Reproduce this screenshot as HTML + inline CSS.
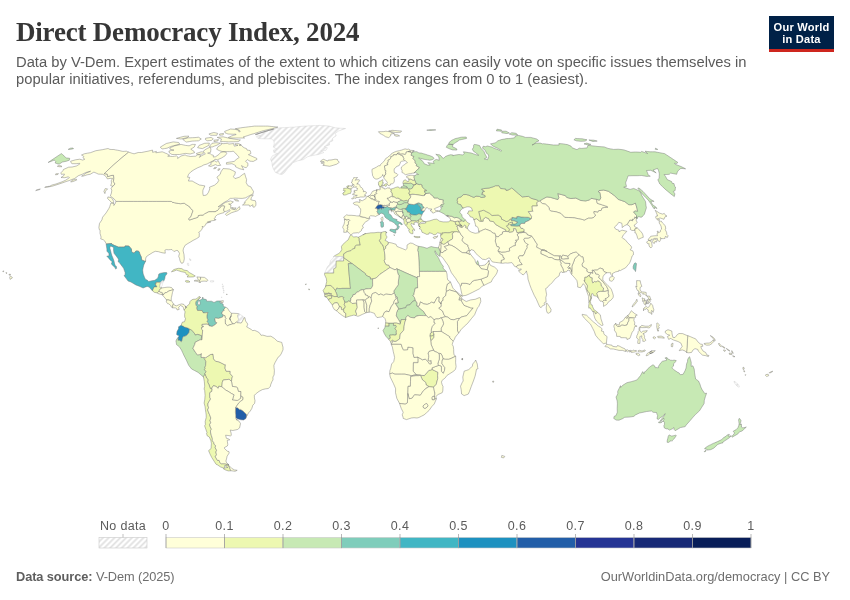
<!DOCTYPE html>
<html lang="en">
<head>
<meta charset="utf-8">
<title>Direct Democracy Index, 2024</title>
<style>
html,body{margin:0;padding:0;background:#fff;}
body{width:850px;height:600px;position:relative;overflow:hidden;font-family:"Liberation Sans",sans-serif;color:#5b5b5b;}
#title{position:absolute;left:16px;top:15.5px;margin:0;font-family:"Liberation Serif",serif;font-weight:bold;font-size:27px;line-height:32px;color:#363636;white-space:nowrap;letter-spacing:-0.2px;}
#subtitle{position:absolute;left:16px;top:53.5px;margin:0;font-size:14.75px;line-height:17.5px;color:#5b5b5b;white-space:nowrap;}
#logo{position:absolute;left:769px;top:16px;width:65px;height:33px;background:#002147;border-bottom:3px solid #ce261e;color:#fff;font-weight:bold;font-size:11.1px;line-height:12.1px;text-align:center;}
#logo span{display:block;position:relative;top:5.2px;letter-spacing:0.2px;}
#map{position:absolute;left:0;top:0;width:850px;height:600px;}
#footer-l{position:absolute;left:16px;top:568.6px;font-size:12.8px;line-height:16px;color:#6e6e6e;white-space:nowrap;letter-spacing:-0.09px;}
#footer-l b{font-weight:bold;color:#5e5e5e;}
#footer-r{position:absolute;right:20px;top:568.6px;font-size:12.8px;line-height:16px;color:#6e6e6e;white-space:nowrap;}
</style>
</head>
<body>
<svg id="map" viewBox="0 0 850 600" width="850" height="600">
<defs>
<pattern id="hatch" patternUnits="userSpaceOnUse" width="4.1" height="4.1" patternTransform="rotate(45)">
<rect width="4.1" height="4.1" fill="#fff"/><line x1="2.05" y1="0" x2="2.05" y2="4.1" stroke="#e0e0e0" stroke-width="1.7"/>
</pattern>
</defs>
<g id="countries"><g stroke="#737373" stroke-width="0.45" stroke-linejoin="round"><path d="M369.6,232.8L367.4,233.2L366.0,233.5L365.5,233.7L366.0,233.6L369.9,233.0L370.7,232.8ZM420.0,237.5L420.0,237.3L418.6,237.6ZM210.1,392.4L209.7,392.7L209.7,393.6ZM211.5,388.7L211.7,388.3L210.2,388.4ZM380.9,233.9L380.9,234.4L381.5,232.4ZM488.6,263.9L488.4,265.2L488.4,264.9L489.4,263.6ZM409.7,194.8L409.5,194.5L409.7,195.1L410.3,196.0L410.5,195.6L409.6,194.9L412.9,194.5L414.1,194.4L412.3,194.1ZM416.1,204.0L416.7,203.5L416.6,203.5L414.4,204.4ZM422.2,211.0L424.0,210.9L424.0,210.9L421.1,210.5ZM363.6,217.2L363.0,217.0L359.4,215.9L360.1,216.6L361.5,217.0ZM412.7,186.7L412.5,187.8L413.2,186.3ZM428.2,352.9L427.9,353.1L428.4,354.6L428.2,353.1ZM431.1,363.0L431.2,360.5L430.4,360.8ZM428.4,387.0L426.7,387.7L425.1,389.2L426.5,388.3ZM434.8,392.7L434.3,391.3L434.4,391.8L434.7,394.0ZM410.1,386.2L408.1,386.2L408.1,386.4L410.1,386.4ZM415.6,362.7L417.9,362.7L417.9,362.4L415.8,362.4L413.5,362.4L413.5,362.7ZM432.2,369.3L430.8,370.0L432.3,369.6ZM442.2,360.1L442.1,361.6L442.2,361.3L442.5,359.7ZM433.4,335.1L434.0,334.9L434.0,335.3L434.2,334.8L433.1,331.5L434.0,334.8ZM442.7,320.7L442.9,321.3L442.4,319.7L442.0,319.1ZM440.0,302.8L440.1,302.5L438.9,300.8L438.9,299.2L438.6,301.4ZM418.3,306.9L418.6,306.1L416.9,306.0ZM396.2,333.0L396.2,333.8L396.2,334.0L396.6,334.0ZM399.6,321.2L398.5,319.6L399.9,322.0ZM396.4,315.1L396.1,315.8L397.3,317.7L396.4,315.8ZM395.7,304.2L397.0,306.2L398.3,308.3L397.4,306.2ZM397.8,301.2L398.1,302.7L395.1,303.2L395.3,303.5L398.5,302.7ZM397.7,300.9L397.5,298.5L397.1,297.0L396.8,296.8L397.4,299.3ZM395.9,297.4L396.3,296.6L395.5,296.2ZM395.2,294.6L394.8,294.1L395.5,296.2ZM388.0,311.4L386.4,310.8L385.2,311.8L386.7,311.6ZM365.2,300.1L367.5,298.3L366.2,298.9ZM362.6,289.7L361.4,289.5L360.2,290.4L360.9,290.2ZM336.9,293.9L336.4,293.0L336.4,293.1L337.0,295.7ZM386.5,245.5L385.7,246.1L385.7,246.9L385.9,246.4ZM382.0,244.5L380.8,242.7L379.4,240.6L379.4,240.6L381.3,244.0ZM592.6,283.0L593.5,282.3L592.3,281.4ZM468.7,253.9L468.3,253.2L466.2,252.9L465.7,252.9L466.1,253.0ZM630.0,317.5L629.0,317.8L629.0,317.9L629.3,317.9L632.8,317.9Z" fill="#ffffd9" stroke="none"/>
<path d="M393.7,234.8L394.0,235.4L394.5,235.4L394.5,234.9ZM501.4,457.4L503.7,457.9L504.8,456.4L501.8,455.4Z" fill="#ffffd9"/>
<path d="M269.3,130.3L266.4,131.2L263.4,132.1L260.4,133.0L257.3,134.0L255.7,134.6L257.1,135.0L259.0,135.4L260.8,135.9L258.6,136.3L256.4,136.6L257.1,137.5L257.9,138.4L259.8,138.6L261.8,138.7L263.7,138.8L266.2,138.8L268.8,138.8L271.3,138.8L272.6,139.8L273.8,140.8L274.3,143.9L273.3,147.1L275.2,148.2L277.1,149.2L275.3,149.7L273.4,150.1L273.9,152.5L275.7,153.0L277.6,153.6L275.0,154.7L272.4,155.8L270.5,159.2L272.0,162.6L272.3,166.0L273.7,169.5L275.4,172.4L277.4,173.2L279.4,174.1L282.0,174.5L284.3,172.9L287.4,168.8L290.6,165.6L293.0,162.6L295.5,161.7L297.9,160.7L300.7,160.2L303.4,159.6L305.6,158.1L307.7,156.7L310.0,156.1L312.2,155.6L315.3,155.0L318.4,154.5L321.1,153.5L323.9,152.5L322.4,151.6L320.9,150.7L323.5,150.5L326.0,150.3L327.3,147.7L325.8,147.1L324.4,146.5L327.0,145.7L329.5,145.0L329.3,142.3L331.0,141.6L332.8,140.8L332.5,138.4L334.4,137.0L336.2,135.7L335.3,133.4L337.0,132.1L338.7,130.9L341.1,130.1L343.3,129.3L345.6,128.5L343.0,128.3L340.4,128.2L337.9,128.0L335.3,127.8L333.2,127.2L331.1,126.6L329.1,126.0L326.8,125.9L324.4,125.7L322.1,125.6L319.9,125.4L317.6,125.5L315.3,125.6L313.0,125.7L310.6,125.8L308.3,125.9L306.0,126.0L303.7,126.2L301.4,126.4L299.0,126.6L296.7,126.8L294.4,127.1L292.0,127.2L289.6,127.3L287.2,127.5L284.8,127.6L282.4,127.7L279.9,127.8L277.7,128.3L275.5,128.7L273.7,129.1L272.2,129.5Z" fill="url(#hatch)" stroke="#cfcfcf"/>
<path d="M50.2,161.7L54.2,160.1L55.0,160.7L55.7,161.4L55.2,163.0L56.6,163.5L58.0,164.0L59.5,164.0L62.2,162.1L66.5,161.2L69.3,160.2L69.7,158.3L68.2,158.1L66.6,158.0L65.7,157.5L64.9,156.9L64.1,156.0L63.3,155.1L62.4,154.4L61.4,153.6L60.9,153.9L54.7,158.0L54.7,158.0L48.5,162.2L48.1,162.5ZM70.8,149.3L73.5,148.7L73.0,148.0L70.4,148.2L68.2,149.4Z" fill="#c7e9b4"/>
<path d="M115.0,184.0L114.2,182.7L113.4,181.5L113.9,178.1L113.5,175.2L110.7,175.6L107.6,176.7L107.3,174.1L104.3,173.6L109.2,169.0L114.2,164.4L119.2,160.0L124.4,155.6L128.6,152.2L128.6,152.1L127.6,151.7L126.5,151.2L124.7,151.3L122.9,151.4L121.0,151.0L119.1,150.5L117.4,150.2L115.6,149.9L113.9,149.5L111.9,149.5L110.0,149.4L109.0,149.0L108.1,148.5L105.2,149.1L102.3,149.7L99.1,150.2L95.9,150.7L90.4,152.7L87.4,153.2L84.3,153.8L81.5,155.0L82.7,155.7L83.9,156.5L82.9,157.8L83.8,158.5L84.8,159.2L82.8,160.1L81.2,159.6L79.7,159.2L75.6,159.8L70.6,161.2L71.1,162.8L72.0,163.7L74.1,163.7L76.2,163.7L79.6,163.3L79.8,164.0L76.4,166.0L72.1,167.0L68.6,167.2L63.4,169.5L62.9,170.7L60.8,172.9L61.3,174.3L64.5,174.1L63.9,175.5L61.0,177.5L62.9,177.6L64.8,177.7L68.5,176.8L69.4,177.7L65.8,180.1L62.1,181.8L59.0,182.9L55.9,184.0L52.0,185.0L48.3,186.9L51.4,186.4L54.2,185.6L57.0,184.7L60.0,183.7L62.9,182.7L66.0,181.6L69.1,180.6L74.8,178.4L78.4,175.7L82.2,174.3L85.6,172.6L87.8,171.9L90.6,171.2L89.1,171.9L86.1,173.0L83.5,175.0L81.6,176.2L83.2,176.1L87.2,174.8L90.2,174.3L93.9,172.1L96.2,173.1L98.3,174.1L100.5,174.2L102.7,174.3L104.9,175.4L106.4,177.4L107.4,178.9L110.1,178.4L112.5,178.4L111.2,180.8L111.5,183.0L110.7,185.7L112.5,186.3L113.5,185.7ZM111.6,243.5L111.3,244.0L114.8,245.6L118.4,247.1L121.6,247.1L124.7,247.1L125.1,245.9L128.8,246.0L131.4,249.0L131.6,251.5L132.5,252.4L134.1,253.2L135.6,251.3L136.7,250.9L138.6,251.2L139.4,252.3L139.8,253.9L141.3,257.1L141.6,259.9L144.9,261.3L145.7,261.1L145.6,258.9L146.2,257.1L147.1,256.0L150.0,254.2L152.9,252.4L155.3,251.3L158.6,251.7L160.6,252.4L163.0,252.9L165.3,253.2L165.1,251.3L164.9,250.2L166.2,249.6L168.6,249.8L170.4,249.6L171.9,249.5L173.9,251.5L176.8,250.4L178.0,250.8L179.5,253.4L178.7,256.3L179.6,258.6L180.1,261.0L181.3,263.2L182.9,263.1L183.7,261.6L184.3,258.9L184.0,254.6L183.1,250.8L183.4,248.7L185.1,245.3L187.9,243.5L190.2,242.2L193.1,240.4L196.6,238.6L199.2,236.9L199.3,233.3L198.7,232.3L199.7,231.9L201.6,229.7L202.5,227.9L202.2,226.1L203.1,227.2L205.4,225.3L206.3,223.2L207.2,223.0L210.9,221.9L207.2,222.2L210.1,221.2L212.8,220.6L214.3,220.5L215.0,219.9L214.7,219.9L214.1,218.6L215.2,217.8L215.4,216.5L217.4,214.7L221.0,213.4L223.9,212.7L224.5,211.8L224.0,210.9L223.7,209.8L224.8,206.3L224.0,205.6L222.6,206.0L222.3,205.4L220.0,207.3L219.1,208.3L218.6,209.3L217.2,210.6L215.8,211.0L215.4,211.6L212.1,211.6L208.8,211.6L204.4,213.9L203.1,215.1L200.6,215.1L198.2,215.6L198.0,216.5L197.8,217.3L195.4,218.1L193.0,218.8L189.4,220.1L188.7,218.7L190.9,216.8L191.9,213.8L193.0,210.9L191.6,209.1L190.1,207.8L189.7,206.8L186.9,205.0L184.2,203.2L180.7,203.7L178.8,203.5L176.9,203.2L174.5,202.7L172.2,202.2L171.4,201.4L167.7,201.4L163.9,201.4L160.1,201.4L156.3,201.4L152.5,201.4L148.8,201.4L145.0,201.4L141.2,201.4L137.4,201.4L133.7,201.4L129.9,201.4L126.1,201.4L122.3,201.4L118.5,201.4L115.9,201.4L115.4,203.2L113.8,205.5L114.0,203.6L111.0,203.0L110.9,203.0L109.7,206.8L108.8,208.6L106.1,212.9L102.6,217.2L101.9,219.9L99.5,223.4L98.9,227.4L99.3,229.7L100.1,230.2L100.0,233.3L101.1,237.1L100.7,238.9L103.2,239.7L104.6,240.8L106.1,243.5L106.2,244.0L108.9,243.7ZM59.3,166.7L62.0,166.7L61.1,165.8L58.4,165.6L57.3,166.3ZM55.8,173.8L55.5,174.8L57.8,174.5L58.5,173.6ZM76.7,180.1L76.3,179.1L72.0,180.3L70.7,182.0L73.1,181.5ZM47.5,187.2L48.5,186.4L45.9,186.7L44.7,187.4ZM35.7,190.6L39.7,189.6L40.4,188.9L36.7,189.9ZM215.8,219.2L215.0,219.9L215.7,220.1ZM2.8,271.6L3.6,271.7L3.8,270.9L2.9,271.0ZM5.9,272.6L6.0,273.2L6.7,273.4L7.0,272.9ZM9.0,274.3L9.0,275.1L10.4,275.1L10.5,274.3ZM12.4,277.9L11.9,277.0L10.5,276.0L9.7,277.3L10.1,279.4Z" fill="#ffffd9"/>
<path d="M154.2,286.9L157.0,286.9L155.2,283.8L156.1,283.8L156.3,282.3L160.5,282.3L160.7,281.9L162.7,280.6L163.8,281.1L164.8,278.5L165.2,276.1L167.0,273.8L166.7,272.6L164.4,272.5L160.6,273.2L158.8,274.0L158.2,276.9L157.6,278.2L154.8,280.3L152.0,280.7L148.7,281.5L147.5,280.3L145.4,279.2L144.7,277.7L143.2,274.0L142.7,270.1L143.2,267.5L143.8,264.9L145.7,261.1L144.9,261.3L141.6,259.9L141.3,257.1L139.8,253.9L139.4,252.3L138.6,251.2L136.7,250.9L135.6,251.3L134.1,253.2L132.5,252.4L131.6,251.5L131.4,249.0L128.8,246.0L125.1,245.9L124.7,247.1L121.6,247.1L118.4,247.1L114.8,245.6L111.3,244.0L111.6,243.5L108.9,243.7L106.2,244.0L106.4,246.1L106.9,249.0L106.9,251.2L108.8,253.2L109.1,255.8L106.8,256.2L108.6,258.0L109.4,259.2L110.8,260.5L112.1,261.8L111.4,264.1L112.5,265.2L115.0,267.5L115.6,269.1L116.7,268.3L116.3,266.2L115.3,265.7L114.7,264.1L114.0,261.0L113.1,258.4L112.0,255.8L111.2,253.2L110.7,251.1L109.8,247.9L110.6,245.9L113.6,247.4L113.5,250.0L114.0,253.3L116.2,256.0L118.5,259.2L118.2,261.8L119.3,262.6L121.1,264.9L123.6,268.3L125.1,272.6L125.1,274.8L124.0,275.6L126.6,279.1L128.1,281.1L130.9,282.0L132.2,282.8L135.8,284.9L139.9,286.5L143.1,288.0L146.2,286.7L147.4,286.5L149.1,287.1L152.5,290.9L153.0,289.4Z" fill="#41b6c4"/>
<path d="M160.5,282.3L156.3,282.3L156.1,283.8L155.2,283.8L157.0,286.9L154.2,286.9L153.0,289.4L152.5,290.9L154.5,292.4L157.2,292.9L158.5,291.8L159.0,291.2L159.7,289.5L162.0,287.9L160.5,287.3L159.8,287.3Z" fill="#edf8b1"/>
<path d="M160.7,281.9L160.5,282.3L159.8,287.3L160.5,287.3L162.0,285.8L162.6,283.2L163.8,281.1L162.7,280.6Z" fill="url(#hatch)" stroke="#cfcfcf"/>
<path d="M162.3,293.9L162.5,292.8L161.9,292.4L160.9,292.3L159.9,291.8L159.0,291.2L158.5,291.8L157.2,292.9L157.8,293.5L160.7,294.4L162.1,294.5L162.2,294.5L162.3,294.1Z" fill="#ffffd9"/>
<path d="M162.4,294.4L163.2,294.1L162.7,294.9L162.7,294.9L163.3,294.9L164.8,292.9L166.6,292.5L169.0,290.9L171.3,290.3L173.4,289.7L171.6,287.6L169.4,287.2L167.1,287.2L164.8,287.5L162.0,287.9L159.7,289.5L159.0,291.2L159.9,291.8L160.9,292.3L161.9,292.4L162.5,292.8L162.3,293.9L162.3,294.1L162.3,294.2Z" fill="#ffffd9"/>
<path d="M162.5,295.2L165.0,298.0L166.5,299.9L166.7,299.9L168.9,300.0L170.5,300.7L171.2,300.3L171.1,300.2L171.4,297.5L172.0,294.9L172.5,292.3L173.4,289.7L171.3,290.3L169.0,290.9L166.6,292.5L164.8,292.9L163.3,294.9L162.7,294.9L162.7,294.9Z" fill="#ffffd9"/>
<path d="M166.6,300.1L166.3,301.9L167.8,303.8L168.7,303.8L170.8,305.6L171.1,306.8L172.6,307.8L172.8,305.1L173.6,303.9L172.7,302.7L171.2,300.3L170.5,300.7L168.9,300.0L166.7,299.9L166.5,299.9L166.5,299.9Z" fill="#ffffd9"/>
<path d="M175.4,307.9L176.7,308.5L177.1,310.0L179.2,309.4L178.6,307.3L180.5,305.5L182.8,306.6L183.4,307.7L184.0,310.0L185.7,308.2L185.4,306.2L184.0,304.5L181.8,303.9L179.4,304.5L176.6,305.8L174.6,305.3L173.6,303.9L172.8,305.1L172.6,307.8Z" fill="#ffffd9"/>
<path d="M189.2,272.5L187.2,270.6L183.9,270.1L181.8,268.6L178.5,268.3L176.2,268.8L173.8,269.6L171.4,271.8L173.8,271.2L176.5,270.1L178.6,270.8L181.4,271.7L185.4,272.5L186.3,274.6L188.5,275.1L187.1,277.0L190.2,277.0L193.3,276.9L195.3,276.0L192.0,274.0Z" fill="#edf8b1"/>
<path d="M185.2,281.1L186.5,282.2L188.4,282.2L190.0,281.9L188.5,280.8L186.3,280.6Z" fill="#edf8b1"/>
<path d="M199.7,280.3L200.5,279.2L200.6,277.2L196.9,276.9L198.0,279.2L198.8,280.3L195.2,280.3L194.1,280.9L197.3,281.3L200.0,282.6L200.0,282.6L200.1,282.1Z" fill="#ffffd9"/>
<path d="M199.7,280.3L200.1,282.1L200.0,282.6L201.6,281.3L204.1,281.1L207.1,281.3L208.0,280.3L206.0,278.5L204.5,277.4L200.7,277.2L200.6,277.2L200.5,279.2Z" fill="#ffffd9"/>
<path d="M213.1,282.0L214.1,281.2L213.3,280.6L210.4,280.8L210.4,281.9Z" fill="url(#hatch)" stroke="#cfcfcf"/>
<path d="M189.4,258.6L189.8,259.9L190.6,261.0L191.0,259.7ZM187.3,263.3L187.5,265.2L188.8,265.7L188.6,263.3Z" fill="url(#hatch)" stroke="#cfcfcf"/>
<path d="M226.6,294.1L226.6,294.6L227.0,294.8L227.2,294.2Z" fill="#ffffd9"/>
<path d="M222.3,283.9L222.2,284.5L222.7,284.5L222.8,284.1ZM222.4,287.2L223.4,287.1L223.7,285.9L222.3,286.0ZM222.9,289.0L223.3,289.2L223.4,288.1L222.9,288.0ZM223.3,289.9L223.5,291.1L224.1,291.2L224.2,290.3ZM223.5,292.0L223.5,292.9L223.9,293.1L224.0,292.2ZM221.6,296.9L221.5,297.5L222.0,297.5L222.0,297.0Z" fill="url(#hatch)" stroke="#cfcfcf"/>
<path d="M221.1,300.9L221.1,302.6L223.1,302.5L223.3,300.6Z" fill="#ffffd9"/>
<path d="M178.2,339.1L177.9,340.3L179.7,340.4L181.3,341.8L181.9,340.8L182.6,337.7L183.7,336.6L186.5,335.6L188.9,332.8L189.6,329.1L188.8,328.5L187.2,327.8L184.5,327.1L184.0,326.6L182.1,325.7L181.4,325.1L179.5,326.2L178.6,326.7L178.5,328.8L177.0,331.4L176.6,334.5L178.1,335.6L179.0,335.6L178.8,336.6L178.0,337.6L178.1,337.7Z" fill="#1d91c0"/>
<path d="M246.8,414.9L245.9,413.8L244.1,412.0L242.8,410.8L240.5,409.4L239.5,409.4L237.5,407.8L235.6,407.6L235.5,409.0L235.4,412.3L235.7,415.1L235.7,417.5L237.2,418.7L240.9,419.8L243.6,420.0L245.9,418.5L246.4,416.8L246.2,416.7ZM237.7,420.3L236.3,419.3L236.6,420.1Z" fill="#225ea8"/>
<path d="M195.9,301.7L195.6,303.2L195.9,305.1L197.0,306.6L196.6,308.2L197.5,310.5L199.8,310.5L201.9,310.5L203.3,312.9L205.6,312.8L207.9,312.6L207.0,315.0L206.9,317.1L207.4,319.2L208.1,319.9L206.8,321.5L208.2,322.8L209.0,325.7L212.1,326.5L215.3,324.6L217.0,322.8L215.4,322.0L214.8,318.6L215.7,318.1L218.5,318.4L222.6,317.1L223.3,315.2L221.8,313.3L222.6,311.3L224.4,310.3L223.8,309.4L225.7,307.2L223.4,306.4L223.1,304.0L220.8,303.0L219.5,302.2L220.7,301.3L220.7,300.9L219.8,300.9L216.8,301.0L215.6,301.7L214.0,302.5L211.5,301.2L209.4,301.2L206.7,301.2L206.3,299.6L203.1,298.8L202.8,297.0L202.2,299.1L200.3,299.9L199.1,300.3L199.5,300.8L200.1,302.5L200.1,304.5L198.7,305.1L197.8,303.8L198.0,301.9L199.0,300.4L198.9,300.4L198.3,299.6L199.8,298.0L200.3,297.2L200.1,297.1L199.8,297.9L197.6,299.7ZM220.6,303.0L220.6,302.8L220.8,303.0Z" fill="#7fcdbb"/>
<path d="M184.0,310.0L185.1,311.8L184.6,314.5L184.7,317.1L185.5,318.6L184.5,321.8L182.5,322.0L181.5,324.1L181.4,325.1L182.1,325.7L184.0,326.6L184.5,327.1L187.2,327.8L188.8,328.5L189.6,329.1L191.6,330.2L194.5,333.5L195.1,335.1L197.7,334.4L201.7,335.8L201.2,338.7L202.0,339.8L202.3,334.9L202.7,330.1L201.6,329.2L201.6,327.4L203.1,327.1L203.6,326.2L202.1,326.1L202.1,324.4L206.4,324.2L208.4,324.4L209.0,325.7L208.2,322.8L206.8,321.5L208.1,319.9L207.4,319.2L206.9,317.1L207.0,315.0L207.9,312.6L205.6,312.8L203.3,312.9L201.9,310.5L199.8,310.5L197.5,310.5L196.6,308.2L197.0,306.6L195.9,305.1L195.6,303.2L195.9,301.7L197.6,299.7L199.8,297.9L200.1,297.1L200.3,297.2L199.1,296.3L197.7,298.0L195.8,299.1L193.0,299.3L191.5,300.0L189.9,301.7L189.6,303.8L187.9,305.3L186.5,306.4L186.6,307.9L185.4,306.2L185.7,308.2Z" fill="#edf8b1"/>
<path d="M205.1,374.4L204.8,373.7L206.1,371.6L204.4,369.5L205.2,368.7L204.8,367.4L205.6,365.8L205.9,361.4L203.6,357.4L201.2,357.5L201.3,353.4L201.1,354.4L197.4,354.9L195.6,352.5L193.0,348.5L193.4,347.3L194.7,344.6L195.3,342.2L197.7,341.0L200.1,339.8L202.0,339.8L201.2,338.7L201.7,335.8L197.7,334.4L195.1,335.1L194.5,333.5L191.6,330.2L189.6,329.1L188.9,332.8L186.5,335.6L183.7,336.6L182.6,337.7L181.9,340.8L181.3,341.8L179.7,340.4L177.9,340.3L178.2,339.1L178.1,337.7L177.8,337.9L177.8,337.9L176.8,339.0L175.9,341.0L176.2,342.4L176.5,344.6L179.4,346.8L181.5,350.1L182.6,352.5L183.7,354.9L185.0,357.5L186.4,360.2L188.7,365.3L191.6,369.0L194.5,370.5L198.1,372.4L200.9,374.8L203.1,376.7L203.3,376.7Z" fill="#c7e9b4"/>
<path d="M208.0,379.5L207.6,382.1L209.1,384.9L210.2,388.4L211.7,388.3L213.4,385.7L216.0,386.4L218.2,388.4L218.8,386.2L221.8,386.8L222.3,382.4L223.2,380.0L226.2,379.7L229.1,379.3L231.5,381.4L231.9,378.4L232.5,376.3L230.2,373.7L230.2,371.3L226.1,371.2L225.0,368.2L225.4,364.7L224.8,364.8L221.3,363.0L218.9,361.8L215.7,361.3L213.5,358.8L213.4,357.1L213.0,354.1L210.3,354.6L207.2,356.7L205.8,357.7L203.6,357.4L205.9,361.4L205.6,365.8L204.8,367.4L205.2,368.7L204.4,369.5L206.1,371.6L204.8,373.7L205.1,374.4L206.6,378.2Z" fill="#edf8b1"/>
<path d="M225.1,463.7L221.3,463.7L219.9,462.7L219.1,460.3L217.6,460.5L215.2,456.7L216.5,454.9L215.9,452.1L216.6,450.1L215.2,447.8L215.6,445.5L214.2,444.4L213.7,442.4L212.3,440.6L212.3,438.3L211.3,435.4L210.5,432.0L210.6,430.2L211.5,429.2L210.3,427.1L209.6,424.3L210.8,422.9L210.0,420.6L210.8,418.0L210.0,415.7L209.4,414.3L207.6,409.9L208.6,407.8L207.8,405.2L208.1,403.1L209.0,401.6L210.6,399.0L209.8,397.4L209.7,392.7L211.8,391.4L212.2,388.8L210.2,388.4L209.1,384.9L207.6,382.1L208.0,379.5L206.6,378.2L205.1,374.4L203.3,376.7L203.1,376.7L203.0,376.6L203.0,376.6L203.5,377.0L204.3,381.5L204.7,386.2L204.1,389.0L204.7,390.5L205.1,395.3L204.8,399.2L204.1,403.1L205.1,406.8L205.4,409.7L205.8,412.3L206.2,414.9L206.2,417.5L205.2,421.4L205.4,424.8L204.6,425.8L205.8,429.2L207.0,432.6L206.5,433.1L207.1,435.7L209.3,437.0L210.9,440.8L211.4,443.4L211.2,446.0L211.1,448.5L208.6,450.6L209.8,453.6L211.7,457.4L214.1,461.2L216.0,464.2L217.7,465.0L220.6,467.0L224.3,468.3L223.3,468.7L224.8,469.7L228.2,470.9L230.9,470.8L229.7,468.1L228.5,465.3L226.8,465.0L225.7,465.7L225.4,466.2L228.0,467.5L225.8,467.7L224.6,468.2L224.5,466.6L224.4,465.7L226.6,465.0L228.6,464.6L228.6,464.6Z" fill="#edf8b1"/>
<path d="M228.2,391.4L231.4,393.5L234.0,394.8L233.2,397.4L232.4,400.0L234.9,400.3L237.3,400.5L238.4,400.1L240.8,398.2L240.8,395.6L241.0,391.5L238.5,391.3L237.6,387.7L236.3,386.8L232.5,386.4L232.0,382.8L231.5,381.4L229.1,379.3L226.2,379.7L223.2,380.0L222.3,382.4L221.8,386.8L225.8,390.2Z" fill="#ffffd9"/>
<path d="M225.0,315.8L225.0,317.1L225.9,318.5L225.2,319.4L225.3,322.8L225.5,324.0L227.5,325.7L229.4,324.9L232.9,323.8L230.4,320.1L229.7,318.4L231.2,315.8L231.5,313.3L229.3,311.1L227.5,308.2L225.7,307.2L223.8,309.4L224.4,310.3L222.6,311.3L221.8,313.3L223.3,315.2Z" fill="#ffffd9"/>
<path d="M229.9,318.7L230.4,320.1L232.9,323.8L234.2,323.8L236.3,322.1L237.3,322.7L238.7,319.4L237.7,315.8L238.8,313.7L236.1,313.4L233.8,313.3L231.5,313.3L231.2,315.8Z" fill="#ffffd9"/>
<path d="M238.7,319.4L237.3,322.7L239.1,322.8L241.2,323.1L242.0,322.0L244.1,317.8L242.7,316.0L238.8,313.7L237.7,315.8Z" fill="url(#hatch)" stroke="#cfcfcf"/>
<path d="M238.8,402.9L240.6,401.3L243.0,399.6L243.1,397.3L240.8,395.6L240.8,398.2L238.4,400.1L237.3,400.5L234.9,400.3L232.4,400.0L233.2,397.4L234.0,394.8L231.4,393.5L228.2,391.4L225.8,390.2L221.8,386.8L218.8,386.2L218.2,388.4L216.0,386.4L213.4,385.7L211.7,388.3L211.5,388.7L212.2,388.8L211.8,391.4L210.1,392.4L209.7,393.6L209.8,397.4L210.6,399.0L209.0,401.6L208.1,403.1L207.9,404.8L207.9,405.3L208.6,407.8L207.6,409.9L209.4,414.3L210.0,415.7L210.8,418.0L210.0,420.6L210.8,422.9L209.6,424.3L210.3,427.1L211.5,429.2L210.6,430.2L210.5,432.0L211.3,435.4L212.3,438.3L212.3,440.6L213.7,442.4L214.2,444.4L215.6,445.5L215.2,447.8L216.6,450.1L215.9,452.1L216.5,454.9L215.4,456.4L215.7,457.4L217.6,460.5L219.1,460.3L219.9,462.7L221.3,463.7L225.1,463.7L228.1,464.5L228.1,464.5L228.1,464.5L228.6,464.6L228.6,464.6L228.2,464.7L228.2,464.7L228.7,464.6L226.6,462.7L225.9,461.0L226.5,459.0L227.1,456.2L229.2,453.0L229.0,451.6L227.2,451.1L224.5,448.5L224.5,447.5L227.3,446.0L227.8,444.7L227.4,441.6L227.3,440.3L229.8,439.8L228.3,438.8L226.4,438.3L225.6,435.2L228.0,435.5L230.4,435.9L231.3,435.4L231.1,433.1L230.2,430.0L232.8,430.5L235.2,430.0L237.5,429.5L239.6,427.9L240.5,423.5L239.0,421.1L237.7,420.3L236.6,420.1L236.3,419.3L236.0,419.0L235.7,417.5L235.7,415.1L235.4,412.3L235.5,409.0L235.6,407.6ZM230.9,470.8L231.4,470.8L235.1,471.3L237.2,470.3L234.5,469.9L232.1,468.7L229.7,466.2L228.5,465.4L229.8,468.3L230.0,468.9Z" fill="#ffffd9"/>
<path d="M248.6,412.8L250.3,411.0L251.9,408.3L252.8,405.2L254.6,403.4L255.0,400.8L254.4,397.9L254.4,395.3L255.6,394.0L259.0,391.4L262.4,389.6L265.8,388.8L268.4,388.5L270.5,386.2L270.6,384.9L271.9,381.7L273.0,379.9L272.9,377.0L274.1,375.0L274.4,370.5L274.0,367.4L273.9,365.3L275.0,362.7L276.5,360.0L278.1,357.2L279.6,356.2L281.1,354.0L283.0,349.8L283.0,347.3L282.1,343.9L281.8,342.4L280.2,342.0L277.2,341.1L274.4,338.4L270.9,336.2L266.9,336.4L266.3,336.1L262.8,335.1L261.0,335.3L259.3,332.7L257.0,331.4L254.7,330.4L252.4,330.6L251.5,329.6L247.8,327.5L246.7,327.0L247.8,324.1L245.6,321.0L244.9,317.6L244.1,317.8L242.0,322.0L241.2,323.1L239.1,322.8L237.3,322.7L236.3,322.1L234.2,323.8L232.9,323.8L229.4,324.9L227.5,325.7L225.5,324.0L225.3,322.8L225.2,319.4L225.9,318.5L225.0,317.1L225.0,315.8L223.3,315.2L222.6,317.1L218.5,318.4L215.7,318.1L214.8,318.6L215.4,322.0L217.0,322.8L215.3,324.6L212.1,326.5L209.0,325.7L208.4,324.4L206.4,324.2L202.1,324.4L202.1,326.1L203.6,326.2L203.1,327.1L201.6,327.4L201.6,329.2L202.7,330.1L202.3,334.9L202.0,339.8L200.1,339.8L197.7,341.0L195.3,342.2L194.7,344.6L193.4,347.3L193.0,348.5L195.6,352.5L197.4,354.9L201.1,354.4L201.3,353.4L201.2,357.5L203.6,357.4L205.8,357.7L207.2,356.7L210.3,354.6L213.0,354.1L213.4,357.1L213.5,358.8L215.7,361.3L218.9,361.8L221.3,363.0L224.8,364.8L225.4,364.7L225.0,368.2L226.1,371.2L230.2,371.3L230.2,373.7L232.5,376.3L231.9,378.4L231.5,381.4L232.0,382.8L232.5,386.4L236.3,386.8L237.6,387.7L238.5,391.3L241.0,391.5L240.8,395.6L243.1,397.3L243.0,399.6L240.6,401.3L238.8,402.9L235.6,407.6L237.5,407.8L239.5,409.4L240.5,409.4L242.8,410.8L244.1,412.0L245.9,413.8L246.8,414.9L246.2,416.7L246.4,416.8ZM229.9,318.7L231.2,315.8L229.7,318.4L230.4,320.1Z" fill="#ffffd9"/>
<path d="M217.7,133.4L215.8,132.9L213.8,132.5L211.4,133.2L208.9,134.0L209.8,134.6L210.8,135.3L212.8,135.3L214.8,135.3L216.8,135.3ZM184.1,136.3L180.3,137.3L176.4,138.4L178.7,138.7L180.9,139.0L184.2,138.3L187.4,137.6L188.9,136.1L186.5,136.2ZM213.3,138.8L212.2,138.1L211.1,137.4L208.4,137.8L205.6,138.2L205.4,139.6L206.3,140.2L207.1,140.8L209.3,140.6L211.5,140.4ZM187.9,137.8L185.3,138.6L182.7,139.4L183.6,140.1L184.6,140.8L185.4,141.5L186.2,142.1L189.2,141.6L192.1,141.1L194.3,141.0L196.5,140.9L198.6,140.8L201.3,139.0L199.9,138.1L198.5,137.2L196.8,137.4L195.0,137.6L192.6,137.7L190.3,137.8ZM218.3,142.9L216.1,142.7L214.1,143.0L212.0,143.3L209.3,146.5L210.6,146.8L212.0,147.1L214.4,146.1L216.9,145.2L220.4,143.1ZM160.3,147.1L161.1,148.0L162.1,149.0L164.6,148.6L167.1,148.2L170.7,146.5L173.7,145.7L176.8,144.9L179.8,144.1L179.2,143.3L178.7,142.5L176.8,142.3L175.0,142.1L173.2,141.9L169.8,142.7L166.3,143.5ZM204.5,143.3L201.8,144.4L199.1,145.4L197.6,147.7L200.0,148.2L202.5,148.6L205.6,147.0L208.7,145.4L209.4,143.1L206.9,143.2ZM194.6,152.7L194.1,151.4L192.4,150.3L190.8,149.2L194.2,147.1L195.4,144.4L193.8,144.4L192.3,144.4L189.1,145.8L187.3,145.6L185.5,145.4L183.3,144.9L181.1,144.4L177.9,145.1L174.6,145.8L169.8,147.9L170.0,149.2L172.0,149.7L174.0,150.1L171.5,150.5L168.9,151.0L169.4,152.9L170.7,153.7L172.0,154.5L174.5,154.5L177.1,154.5L179.6,154.5L182.6,153.9L185.7,153.4L187.9,153.7L190.1,154.0L192.3,153.4ZM210.7,166.5L213.1,165.6L215.5,164.6L217.5,165.6L220.7,165.3L219.6,163.7L218.9,162.1L218.2,160.5L216.4,161.9L214.6,160.7L210.7,162.6L211.2,164.4L208.5,165.8ZM112.9,186.4L110.9,188.2L111.8,190.1L111.4,193.1L110.3,195.9L112.1,197.4L114.1,198.9L115.5,200.7L115.9,201.4L118.5,201.4L122.3,201.4L126.1,201.4L129.9,201.4L133.7,201.4L137.4,201.4L141.2,201.4L145.0,201.4L148.8,201.4L152.5,201.4L156.3,201.4L160.1,201.4L163.9,201.4L167.7,201.4L171.4,201.4L172.2,202.2L174.5,202.7L176.9,203.2L178.8,203.5L180.7,203.7L184.2,203.2L186.9,205.0L189.7,206.8L190.1,207.8L191.6,209.1L193.0,210.9L191.9,213.8L190.9,216.8L188.7,218.7L189.4,220.1L193.0,218.8L195.4,218.1L197.8,217.3L198.0,216.5L198.2,215.6L200.6,215.1L203.1,215.1L204.4,213.9L208.8,211.6L212.1,211.6L215.4,211.6L215.8,211.0L217.2,210.6L218.6,209.3L219.1,208.3L220.0,207.3L222.3,205.4L222.6,206.0L224.0,205.6L224.8,206.3L223.7,209.8L224.0,210.9L224.5,211.8L224.7,211.6L226.9,211.1L229.6,209.6L230.1,210.9L226.8,212.7L225.4,214.4L226.6,215.5L229.1,214.1L231.6,212.7L234.4,211.8L237.3,210.9L240.1,209.1L239.4,206.5L235.9,209.8L232.6,209.3L230.8,208.6L230.6,206.5L231.1,205.0L228.6,204.0L230.7,204.0L233.4,201.9L230.3,200.9L227.8,201.7L225.3,202.4L220.5,205.7L218.1,206.9L219.7,205.7L223.6,202.7L227.4,200.7L230.2,198.4L232.8,198.3L235.3,198.1L238.8,198.3L242.2,198.4L245.4,197.9L247.8,196.6L250.2,195.3L253.0,193.9L253.5,191.4L251.9,188.9L250.9,186.9L247.9,185.7L246.2,182.7L246.6,179.6L245.6,176.7L244.6,173.3L242.3,174.8L239.3,177.2L235.0,178.6L233.4,176.7L234.9,174.3L235.4,171.9L234.0,171.2L232.6,170.5L231.1,169.8L229.7,169.1L227.2,168.8L225.1,168.7L223.0,168.6L220.9,171.9L220.2,174.3L216.9,177.2L218.8,180.3L217.5,182.7L214.5,185.2L212.0,186.2L209.5,187.2L209.8,188.9L208.3,192.6L206.4,195.1L203.3,195.6L202.8,193.1L202.9,190.1L204.9,185.9L202.1,185.4L199.4,185.0L197.5,184.0L195.7,183.0L193.9,182.0L192.2,181.0L190.3,181.0L188.4,181.0L189.8,177.4L187.5,177.2L188.6,174.3L190.8,171.9L193.9,169.8L197.8,167.7L201.4,166.3L203.8,164.9L207.1,164.0L210.9,161.9L214.1,160.3L214.9,159.2L217.3,159.8L221.5,158.0L225.1,155.8L226.7,153.6L225.9,152.0L223.6,151.8L220.8,152.3L218.8,154.5L215.6,156.7L213.3,157.1L213.4,155.3L211.4,154.7L210.4,153.8L209.0,153.5L207.6,153.1L210.6,152.3L210.7,151.0L210.9,149.2L210.3,147.1L207.4,148.4L204.4,150.1L203.2,151.8L203.6,152.2L202.7,152.0L201.2,151.8L198.9,152.6L196.5,153.4L196.6,154.2L198.9,154.5L200.8,154.2L202.7,154.0L203.9,152.5L204.3,152.8L205.4,153.8L201.5,155.8L199.4,157.4L200.7,155.3L199.1,154.7L197.4,154.9L195.8,156.2L193.1,156.3L190.5,156.5L188.6,156.1L186.8,155.8L185.1,154.9L181.0,156.0L177.6,158.5L177.9,157.1L176.5,155.9L174.6,156.2L172.6,156.5L170.2,156.3L167.7,156.2L169.6,155.2L168.2,154.5L166.9,153.7L165.3,153.1L163.8,152.4L162.2,151.8L159.0,152.3L155.8,152.8L156.4,151.4L152.6,152.3L152.6,150.1L150.3,150.6L148.0,151.2L144.8,151.8L141.5,152.5L139.8,152.5L138.2,152.5L134.1,153.8L132.8,153.5L131.5,153.1L130.1,152.6L128.6,152.1L128.6,152.2L126.4,154.0L124.0,155.9L121.2,158.3L118.8,160.3L116.1,162.7L113.8,164.7L111.2,167.1L108.9,169.2L106.3,171.7L104.3,173.6L107.3,174.1L107.6,176.7L110.7,175.6L113.5,175.2L113.9,178.1L113.4,181.5L114.2,182.7L115.0,184.0L113.5,185.7L112.5,186.3ZM104.9,193.6L105.5,191.1L107.6,188.9L105.2,188.6L103.9,191.4ZM107.9,196.9L107.6,198.6L109.8,200.7L111.3,202.4L113.6,202.9L113.6,201.4L112.5,198.9L111.0,197.6ZM273.7,129.1L273.2,129.2L270.7,129.8L268.2,130.5L265.7,131.2L262.3,132.3L258.8,133.4L255.3,134.5L255.7,134.6L257.3,134.0L260.4,133.0L263.4,132.1L266.4,131.2L269.3,130.3L272.2,129.5ZM218.6,138.0L220.0,138.5L221.5,139.0L220.5,141.5L223.2,141.6L225.9,141.7L228.7,141.9L231.0,141.8L233.4,141.8L235.8,141.7L238.2,141.7L240.4,140.0L238.6,139.8L236.8,139.5L235.0,139.2L233.1,138.9L231.2,138.5L229.2,138.2L228.4,138.0L230.0,138.0L232.8,138.0L235.6,138.0L238.5,138.0L240.5,138.0L242.5,138.0L244.6,138.0L243.2,137.0L247.1,135.8L250.9,134.5L253.5,133.8L256.0,133.0L259.7,131.8L263.3,130.7L266.3,130.0L269.3,129.3L272.3,128.7L275.1,127.8L277.9,127.1L275.9,126.9L273.8,126.7L271.8,126.5L269.8,126.3L267.8,126.1L265.6,126.1L263.3,126.1L261.0,126.1L258.8,126.1L256.5,126.1L254.3,126.1L251.5,126.5L248.6,126.8L245.8,127.2L243.0,127.5L240.4,127.9L237.9,128.3L235.3,128.7L236.7,129.2L238.1,129.8L239.5,130.3L240.2,131.6L238.9,131.9L238.8,130.3L237.0,129.8L235.1,129.3L232.9,129.2L230.6,129.0L227.7,130.2L224.6,131.4L225.0,132.8L226.5,133.4L228.0,134.0L230.0,134.1L232.1,134.2L234.2,134.3L234.9,134.0L236.2,134.5L233.9,135.2L231.7,135.9L227.5,137.9L227.3,137.8L225.2,137.3L223.1,136.8L220.2,137.1L217.2,137.4ZM223.5,133.4L221.5,133.7L219.5,134.0L219.7,135.3L221.4,135.1L223.2,134.9ZM216.3,139.9L214.0,140.2L214.0,141.7L216.0,141.3L218.0,140.8L218.5,139.6ZM227.3,143.3L225.2,143.5L223.0,143.7L221.2,143.1L221.4,144.6L218.0,146.7L216.6,149.2L218.0,150.0L219.5,150.7L221.2,151.2L222.9,151.6L225.4,151.6L227.9,151.6L229.6,151.6L231.2,151.6L233.2,151.2L234.2,152.0L235.3,152.9L236.2,154.0L237.2,155.1L238.2,156.2L239.2,157.4L236.1,159.6L234.2,161.4L231.6,161.8L229.1,162.2L226.5,162.6L226.4,164.2L229.1,164.0L231.9,163.7L233.8,164.6L235.6,165.6L235.5,166.7L237.6,167.8L239.8,168.8L241.8,169.3L243.8,169.8L242.6,167.7L241.5,165.6L242.8,166.4L244.2,167.2L246.1,167.7L247.8,166.0L248.0,163.3L246.7,162.3L245.5,161.4L247.3,159.6L248.6,160.4L250.0,161.2L251.6,161.3L253.3,161.4L257.0,159.4L256.7,158.3L255.3,157.7L253.8,157.1L252.1,156.3L250.5,155.6L248.4,154.7L250.8,153.6L250.7,152.3L250.1,150.5L248.6,150.3L247.1,150.1L246.5,148.6L244.5,147.9L242.8,146.9L241.5,145.4L240.0,145.3L239.1,145.2L241.2,144.8L240.0,144.3L238.8,143.7L236.8,143.7L234.9,143.7L235.0,144.6L236.6,145.0L238.0,145.3L236.4,145.7L234.4,146.2L234.0,145.2L233.5,143.5L231.2,143.8L229.0,144.1ZM214.6,167.4L213.7,168.8L215.8,168.4L216.5,167.4ZM217.8,170.3L219.1,170.3L220.1,168.8L218.5,168.8ZM238.7,201.2L237.7,199.9L234.1,199.4L235.4,200.7ZM245.4,202.7L242.5,205.0L246.2,205.0L249.2,205.0L249.8,206.5L252.9,204.7L252.8,206.8L254.3,207.3L255.9,205.2L255.9,202.7L255.3,200.7L253.0,200.4L250.8,199.7L251.4,197.6L253.3,194.9L250.7,195.6L248.1,198.1L244.3,202.4ZM234.7,209.1L236.1,207.9L234.0,208.0L231.6,207.3L232.2,208.6Z" fill="#ffffd9"/>
<path d="M376.9,208.6L377.5,209.3L379.2,209.2L380.3,208.3L381.5,209.4L382.0,207.9L383.7,208.4L384.3,207.7L384.3,206.8L382.6,206.4L382.4,205.1L380.4,204.5L378.4,205.0L377.2,205.5L376.2,207.0L375.5,207.9L375.2,208.7L375.8,208.2Z" fill="#225ea8"/>
<path d="M390.9,209.2L390.5,208.6L391.0,207.7L388.3,207.3L387.8,206.3L385.5,207.1L384.3,206.8L384.3,206.8L384.3,207.7L383.7,208.4L382.0,207.9L381.5,209.4L380.3,208.3L379.2,209.2L377.5,209.3L377.0,209.6L377.6,210.5L376.7,211.4L377.5,212.3L377.3,213.2L379.0,213.8L378.6,214.8L379.6,214.4L380.6,213.4L381.4,213.2L383.4,213.9L384.4,215.3L384.9,216.9L386.3,218.3L387.8,219.1L388.7,220.0L389.5,220.8L391.7,221.4L393.1,222.3L394.2,222.8L395.5,224.5L396.6,224.8L397.4,227.1L396.9,228.0L396.5,229.4L397.4,229.8L398.5,228.7L398.4,227.9L399.6,227.1L398.3,225.6L398.2,224.5L399.4,223.4L401.2,224.4L402.0,225.0L402.3,224.3L401.1,222.8L398.7,221.7L396.5,220.6L397.1,219.6L394.9,218.9L392.8,218.2L391.1,215.2L388.5,213.2L388.8,211.9L388.4,210.6L389.9,210.0L391.3,210.0L391.0,210.2L391.6,210.1ZM386.5,232.6L386.8,232.2L385.1,231.7L385.8,232.2ZM383.4,226.7L383.6,224.5L383.3,222.2L382.4,221.3L380.2,222.1L380.8,223.6L380.9,226.6L381.9,227.4ZM390.2,230.9L392.3,231.8L394.0,232.8L395.6,233.2L395.9,232.3L395.7,231.3L396.4,228.9L394.1,229.6L391.6,229.2L390.3,229.3L389.7,230.2Z" fill="#7fcdbb"/>
<path d="M390.9,209.2L391.6,210.1L391.0,210.3L391.6,210.4L393.0,210.0L394.5,210.5L395.2,209.4L395.1,208.6L396.4,208.0L397.0,207.9L396.4,206.9L395.7,206.9L393.7,207.5L392.8,208.0L391.0,207.7L390.5,208.6Z" fill="#7fcdbb"/>
<path d="M422.2,211.0L421.1,210.5L420.6,208.6L420.4,206.9L418.3,205.0L416.9,203.3L416.1,204.0L413.5,204.6L411.5,204.3L409.4,204.0L407.7,205.1L407.2,206.3L406.4,208.0L404.5,208.8L405.8,209.7L407.3,211.1L407.2,212.1L409.4,212.4L410.1,213.7L410.6,214.6L413.8,215.0L416.3,215.1L419.0,213.8L421.2,214.6L422.0,214.7L422.4,213.7L424.2,211.1L424.4,210.9L424.2,210.9Z" fill="#41b6c4"/>
<path d="M421.7,210.3L422.4,209.2L422.4,208.3L424.3,207.9L423.4,206.6L422.4,205.4L422.1,204.1L420.5,203.6L418.8,202.8L416.9,203.3L418.3,205.0L420.4,206.9L420.6,208.6L421.1,210.5Z" fill="#7fcdbb"/>
<path d="M398.5,209.1L400.8,209.7L401.8,209.2L403.1,208.6L404.5,208.8L406.4,208.0L407.2,206.3L407.7,205.1L409.4,204.0L407.8,202.9L406.3,202.6L404.4,202.7L402.8,203.5L401.2,204.4L399.3,204.6L397.8,204.0L396.9,204.7L396.5,205.5L396.2,206.5L395.9,206.8L395.9,206.9L396.4,206.9L397.0,207.9Z" fill="#c7e9b4"/>
<path d="M408.4,201.2L406.4,200.3L405.0,200.7L402.8,200.9L402.0,199.9L400.8,200.2L399.4,201.2L397.7,201.8L397.2,202.4L397.1,202.9L397.8,204.0L399.3,204.6L401.2,204.4L402.8,203.5L404.4,202.7L406.3,202.6L407.8,202.9Z" fill="#c7e9b4"/>
<path d="M405.3,186.3L406.7,186.6L407.1,188.0L408.6,189.0L410.4,189.1L412.4,188.2L412.7,186.7L414.0,185.7L413.9,184.8L411.8,183.6L410.3,182.9L408.9,183.4L406.7,183.1L404.8,183.0L403.1,183.8L403.4,184.7L403.4,185.7L403.3,185.8L403.9,185.8Z" fill="#c7e9b4"/>
<path d="M409.6,214.7L410.9,216.3L410.0,217.2L409.9,218.6L411.3,221.0L411.5,221.0L414.6,220.8L416.4,221.3L418.5,220.1L419.7,219.2L421.8,219.4L420.6,218.1L421.3,216.3L422.0,214.7L421.2,214.6L419.0,213.8L416.3,215.1L413.8,215.0L410.6,214.6L410.1,213.7Z" fill="#c7e9b4"/>
<path d="M406.0,218.8L406.3,219.7L406.6,219.6L407.3,218.8L408.3,218.7L408.5,217.5L407.8,217.2L406.5,216.1L406.1,216.3L405.5,217.2L404.9,217.4L405.0,217.9Z" fill="#ffffd9"/>
<path d="M402.4,211.1L402.3,212.0L403.0,211.9L402.7,213.2L403.0,214.2L403.6,215.2L403.1,215.5L405.5,217.2L406.1,216.3L406.5,216.1L407.8,217.2L408.5,217.5L408.3,218.7L409.9,218.6L410.0,217.2L410.9,216.3L409.6,214.7L410.1,213.7L409.4,212.4L407.2,212.1L407.3,211.1L405.8,209.7L405.2,209.3L405.1,209.3L404.5,208.8L403.1,208.6L401.8,209.2L402.1,210.3Z" fill="#c7e9b4"/>
<path d="M350.1,188.8L348.9,188.5L347.3,187.8L348.0,187.2L349.1,186.3L348.9,185.6L347.1,186.1L346.7,187.0L347.4,187.4L346.4,188.2L345.3,188.3L343.6,188.3L343.8,189.3L343.2,190.4L345.4,190.9L344.5,191.6L343.6,192.5L344.2,192.5L342.5,193.6L343.5,194.3L343.2,194.9L344.2,195.1L346.2,194.8L348.0,193.9L349.3,193.5L350.5,193.4L350.8,192.4L351.2,191.4L351.1,190.5L350.9,189.1L351.2,188.8L350.9,188.6Z" fill="#edf8b1"/>
<path d="M381.3,186.4L381.4,185.9L381.7,185.1L382.1,184.7L382.5,183.6L383.7,182.9L382.5,182.5L382.7,181.6L382.9,180.4L382.9,179.7L381.7,180.1L381.1,180.9L379.2,181.3L378.4,182.6L378.5,184.0L378.5,185.1L379.1,185.3L379.7,186.7L381.2,186.9ZM386.4,183.7L385.1,184.1L384.2,184.7L384.7,185.9L386.1,186.4L386.4,185.7L387.1,184.7ZM382.8,186.3L383.7,185.7L383.3,185.0L381.8,185.2L382.0,185.9Z" fill="#edf8b1"/>
<path d="M390.7,191.8L391.7,192.5L392.1,193.8L392.1,195.1L392.8,196.4L392.4,196.7L393.4,196.9L394.8,197.3L395.8,198.1L396.6,198.4L398.3,198.1L398.8,198.9L400.2,199.2L400.8,200.2L402.0,199.9L402.8,200.9L405.0,200.7L406.4,200.3L408.4,201.2L408.5,199.9L410.3,197.9L410.9,196.8L409.7,195.1L409.4,193.6L408.6,193.1L409.8,192.1L409.8,191.4L408.6,189.0L407.1,188.0L404.0,187.9L401.0,187.8L399.7,188.0L399.1,188.0L398.3,186.8L395.6,187.4L393.1,188.5L390.7,189.1L391.1,190.6Z" fill="#edf8b1"/>
<path d="M409.7,194.8L412.3,194.1L415.1,194.5L417.9,194.9L421.0,195.4L423.5,195.8L425.6,193.6L424.3,190.9L426.2,190.9L426.7,190.3L424.7,189.4L422.3,186.9L422.1,185.0L420.8,184.3L419.2,184.6L416.6,183.6L415.7,184.5L413.9,184.8L414.0,185.7L413.2,186.3L412.5,187.8L412.4,188.2L410.4,189.1L408.6,189.0L409.8,191.4L409.8,192.1L408.6,193.1L409.4,193.6L409.5,194.5Z" fill="#edf8b1"/>
<path d="M416.6,183.6L415.4,181.9L415.5,180.8L414.5,180.2L412.9,180.2L410.4,179.0L408.7,179.4L408.9,180.3L408.6,181.5L406.8,181.3L405.5,179.7L403.6,180.6L402.9,182.7L403.1,183.8L404.8,183.0L406.7,183.1L408.9,183.4L410.3,182.9L411.8,183.6L413.9,184.8L414.5,184.7Z" fill="#edf8b1"/>
<path d="M412.5,179.9L413.3,180.2L414.5,180.2L414.5,180.2L414.4,178.4L413.9,176.9L414.9,175.6L412.9,175.4L411.0,175.2L408.8,175.6L406.6,176.2L406.8,177.7L408.8,178.2L408.7,179.4L410.4,179.0L412.2,179.9Z" fill="#ffffd9"/>
<path d="M419.1,221.0L418.5,220.1L416.4,221.3L414.6,220.8L411.5,221.0L411.3,221.0L410.3,221.7L408.9,222.2L407.4,222.3L406.9,224.3L406.4,225.0L406.0,225.4L407.3,227.2L408.2,228.8L409.5,229.1L408.7,230.5L409.8,232.8L411.6,233.7L412.9,233.7L412.9,231.3L412.3,230.0L413.6,229.8L414.6,230.6L414.4,229.2L412.7,227.4L411.9,226.2L412.0,226.3L411.0,224.5L411.5,223.0L412.6,223.9L413.3,224.6L414.8,224.1L413.6,223.5L414.6,222.2L417.7,222.3L418.1,222.6L418.6,222.1ZM418.7,225.9L419.8,226.7L419.7,226.0ZM420.0,236.7L418.8,236.7L415.5,236.6L414.0,236.2L414.2,236.9L416.8,237.7L418.6,237.6L420.0,237.3Z" fill="#edf8b1"/>
<path d="M436.2,237.6L437.0,237.5L437.8,235.7L436.5,236.5L434.6,236.6L434.4,237.1L433.1,237.4L433.6,238.2L434.8,238.6Z" fill="#ffffd9"/>
<path d="M418.5,220.1L419.1,221.0L418.6,222.1L418.1,222.6L418.0,223.0L418.6,224.4L419.6,223.5L421.1,222.0L424.1,221.9L424.2,221.3L422.4,220.6L421.8,219.4L419.7,219.2ZM441.7,234.4L442.3,234.3L442.0,232.8L442.8,233.2L444.9,232.7L447.1,232.8L449.2,232.8L451.7,232.0L454.2,232.0L456.6,231.7L458.2,232.3L459.4,231.8L458.0,229.7L457.6,227.5L456.8,226.2L457.6,226.1L458.3,225.3L455.6,224.3L455.6,222.7L454.7,221.7L452.6,220.8L450.5,220.6L450.3,220.5L448.5,221.8L446.9,221.9L443.1,221.9L441.1,221.5L439.7,221.2L436.8,219.2L433.9,219.4L430.0,220.8L426.3,221.5L424.4,221.4L424.4,221.9L426.2,222.6L424.4,223.4L421.3,223.5L418.6,224.5L418.6,225.8L418.7,225.9L419.7,226.0L419.8,226.7L419.1,226.2L420.4,227.1L419.3,228.9L420.1,228.7L421.3,230.0L422.0,232.3L423.8,233.0L426.7,234.4L428.9,234.1L429.2,232.7L432.0,233.5L433.9,234.8L435.8,234.4L437.6,232.8L439.8,233.3L441.0,233.3L440.7,235.0L441.2,235.3Z" fill="#edf8b1"/>
<path d="M406.9,222.2L406.2,221.2L406.3,219.7L406.0,218.8L405.0,217.9L404.1,217.8L403.7,219.1L403.7,219.7L404.0,221.2L404.1,223.4L405.9,225.4L406.0,225.4L406.4,225.0L406.9,224.3L407.4,222.3Z" fill="#edf8b1"/>
<path d="M407.0,222.2L407.4,222.3L408.9,222.2L410.3,221.7L411.3,221.0L409.9,218.6L408.3,218.7L407.3,218.8L406.6,219.6L406.3,219.7L406.2,221.2L406.5,221.6Z" fill="#ffffd9"/>
<path d="M403.0,215.3L401.9,216.1L402.1,216.8L401.6,217.9L401.7,218.2L401.8,218.3L403.7,219.7L403.7,219.1L404.1,217.8L405.0,217.9L404.9,217.4L405.5,217.2L403.1,215.5L403.1,215.5Z" fill="#ffffd9"/>
<path d="M402.3,212.0L401.4,211.4L399.8,211.5L397.8,211.0L396.7,211.6L395.6,211.1L395.6,212.1L396.6,213.7L397.7,214.6L398.8,215.6L399.9,217.0L401.6,217.9L402.1,216.8L401.9,216.1L403.0,215.3L403.1,215.5L403.6,215.2L403.0,214.2L402.7,213.2L402.8,212.8Z" fill="#ffffd9"/>
<path d="M402.7,212.4L402.7,211.9L402.3,212.0L402.7,212.6ZM390.9,210.3L391.6,212.0L392.8,210.9L393.8,211.6L394.6,213.9L397.3,215.5L400.9,217.7L401.7,218.2L401.6,217.9L399.9,217.0L398.8,215.6L397.7,214.6L396.6,213.7L395.6,212.1L395.6,211.1L396.7,211.6L397.8,211.0L399.8,211.5L401.4,211.4L402.3,212.0L402.4,211.1L402.1,210.3L401.8,209.2L400.8,209.7L398.5,209.1L397.0,207.9L396.4,208.0L395.1,208.6L395.2,209.4L394.5,210.5L393.0,210.0L391.6,210.4L391.0,210.3L391.6,210.1L391.0,210.2L391.3,210.0Z" fill="#ffffd9"/>
<path d="M348.0,229.2L347.4,228.5L348.1,226.9L347.0,225.4L348.1,225.3L348.5,223.7L348.4,221.9L349.9,220.4L349.1,219.5L346.0,219.9L345.8,219.1L344.4,219.6L344.6,221.5L344.1,224.1L343.0,226.2L342.7,227.6L343.3,228.5L344.0,229.8L343.7,232.3L346.0,232.3L347.1,231.8L346.9,230.9Z" fill="#ffffd9"/>
<path d="M348.0,231.8L349.4,233.5L350.7,234.8L351.0,234.8L351.4,234.5L353.5,233.1L357.7,232.7L358.3,233.0L361.4,230.7L361.9,228.8L363.4,227.8L362.4,225.9L364.8,222.7L365.6,221.7L367.6,220.9L369.9,218.6L369.6,218.2L367.2,218.3L366.0,217.8L364.5,217.3L361.5,217.0L360.1,216.6L359.4,215.9L359.3,215.8L358.9,216.0L356.7,215.9L355.1,215.6L351.2,215.3L348.4,215.3L346.6,214.8L345.5,215.7L343.7,217.0L344.5,218.8L344.4,219.6L345.8,219.1L346.0,219.9L349.1,219.5L349.9,220.4L348.4,221.9L348.5,223.7L348.1,225.3L347.0,225.4L348.1,226.9L347.4,228.5L348.0,229.2L346.9,230.9L347.1,231.8ZM366.0,233.5L365.2,233.6L362.8,234.9L363.0,234.9Z" fill="#ffffd9"/>
<path d="M369.5,216.6L370.7,215.7L372.6,215.9L374.2,216.0L375.4,216.5L378.1,215.0L378.6,214.8L379.0,213.8L377.3,213.2L377.5,212.3L376.7,211.4L377.6,210.5L377.0,209.6L377.5,209.3L376.9,208.6L375.8,208.2L375.2,208.7L375.5,207.9L376.2,207.0L377.2,205.5L378.4,205.0L378.4,204.0L378.8,202.7L379.5,201.5L377.9,201.0L376.6,201.0L375.7,200.2L374.6,200.0L372.8,199.4L372.7,198.5L371.4,199.0L371.3,198.3L369.6,197.6L368.8,197.1L368.1,196.1L368.0,196.1L367.8,196.3L366.7,196.5L366.2,197.0L366.1,198.4L365.2,199.0L363.2,200.2L362.4,200.7L360.8,200.5L360.5,199.7L359.1,199.7L359.8,200.9L360.0,202.3L359.0,202.3L357.0,201.8L355.1,202.2L353.4,202.9L353.5,203.8L354.2,204.5L356.7,205.2L357.3,205.2L358.5,205.9L359.3,207.8L360.6,208.7L360.7,210.2L360.5,212.5L359.7,215.6L359.3,215.8L359.4,215.9L363.0,217.0L363.6,217.2L364.5,217.3L366.0,217.8L367.2,218.3L369.6,218.2ZM381.0,218.3L381.5,220.4L382.3,220.9L382.8,220.4L383.0,218.6L382.5,216.8Z" fill="#ffffd9"/>
<path d="M374.5,199.3L375.3,198.5L375.7,198.0L374.9,197.0L374.3,197.0L374.6,196.0L372.9,195.3L371.4,195.5L370.7,195.9L369.6,195.5L368.7,195.8L367.8,196.3L368.0,196.1L368.1,196.1L368.8,197.1L369.6,197.6L371.3,198.3L371.4,199.0L372.7,198.5L372.8,199.4L374.6,200.0Z" fill="#ffffd9"/>
<path d="M376.0,199.4L375.3,198.5L374.5,199.3L374.6,200.0L375.7,200.2Z" fill="#ffffd9"/>
<path d="M375.1,195.9L374.7,194.4L376.4,194.0L376.9,193.3L376.1,192.3L377.1,190.9L377.0,190.6L376.6,189.8L376.6,190.5L375.1,190.4L373.5,190.9L373.5,191.1L372.3,191.5L371.1,193.9L369.9,195.0L369.6,195.5L370.7,195.9L371.4,195.5L372.9,195.3L374.6,196.0L374.3,197.0L374.9,197.0Z" fill="#ffffd9"/>
<path d="M395.5,202.1L393.2,201.4L392.7,202.4L390.9,202.0L390.2,202.6L389.3,203.3L388.9,204.7L389.5,205.2L387.8,205.0L385.4,205.5L384.2,205.1L383.8,205.7L382.4,205.1L382.6,206.4L384.3,206.8L384.3,206.8L384.3,206.8L385.5,207.1L387.8,206.3L388.3,207.3L391.0,207.7L392.8,208.0L393.7,207.5L395.7,206.9L395.9,206.9L395.9,206.8L396.2,206.5L396.5,205.5L396.9,204.7L397.8,204.0L397.1,202.9L397.2,202.4Z" fill="#ffffd9"/>
<path d="M389.1,200.7L390.9,202.0L392.7,202.4L393.2,201.4L395.5,202.1L397.2,202.4L397.7,201.8L399.4,201.2L400.8,200.2L400.7,200.0L399.8,199.1L398.8,198.9L398.3,198.1L396.6,198.4L395.8,198.1L394.8,197.3L393.4,196.9L392.4,196.7L391.4,196.3L389.9,197.1L388.8,197.9L387.1,198.1L387.8,199.5Z" fill="#ffffd9"/>
<path d="M389.7,188.6L389.2,187.4L388.3,188.2L387.2,187.8L386.4,188.5L385.3,188.9L384.2,189.0L384.1,187.9L382.6,188.0L382.3,187.2L381.2,186.9L379.7,186.7L380.2,187.7L379.6,188.0L380.2,188.6L380.5,189.1L379.9,189.2L379.6,190.0L378.9,190.0L378.6,189.6L376.6,189.6L376.6,190.5L376.6,189.8L377.0,190.6L377.1,190.9L376.1,192.3L376.9,193.3L376.4,194.0L374.7,194.4L375.1,195.9L374.9,197.0L375.7,198.0L375.3,198.5L376.0,199.4L375.7,200.2L376.6,201.0L377.9,201.0L379.5,201.5L378.8,202.7L378.4,204.0L378.4,205.0L380.4,204.5L382.4,205.1L383.8,205.7L384.2,205.1L385.4,205.5L387.8,205.0L389.5,205.2L388.9,204.7L389.3,203.3L390.2,202.6L390.9,202.0L389.1,200.7L387.8,199.5L387.1,198.1L388.8,197.9L389.9,197.1L391.4,196.3L392.4,196.7L392.8,196.4L392.1,195.1L392.1,193.8L391.7,192.5L390.7,191.8L391.1,190.6L390.7,189.1Z" fill="#ffffd9"/>
<path d="M351.2,188.8L352.2,188.3L352.5,187.8L352.0,187.2L351.8,186.8L351.3,185.9L349.7,185.9L349.1,186.3L348.0,187.2L347.3,187.8L348.9,188.5L350.1,188.8L350.9,188.6L351.2,188.8ZM365.9,195.5L364.4,195.3L364.8,194.5L365.6,194.0L366.2,193.6L366.4,192.6L366.2,192.0L365.0,191.5L364.0,191.5L363.2,191.8L363.6,191.1L363.7,190.4L362.8,189.9L362.6,188.6L361.8,187.7L360.7,187.3L360.2,186.4L359.9,185.2L359.2,184.5L358.2,184.0L356.7,184.0L358.1,183.2L357.7,182.9L358.4,182.3L359.1,181.2L359.6,180.3L359.2,179.8L356.6,179.8L355.5,180.1L355.1,180.3L355.7,179.5L357.3,178.0L357.4,177.5L355.5,177.7L353.7,177.6L353.5,178.5L353.0,179.3L352.1,180.1L352.3,180.8L352.2,181.8L351.2,182.3L352.3,183.2L352.5,184.2L351.9,185.7L353.0,185.2L353.6,184.2L354.1,185.3L353.4,186.6L353.2,187.2L354.5,187.2L356.1,186.7L356.5,186.7L356.0,187.7L356.8,188.6L357.6,188.4L357.2,189.5L357.1,190.4L356.4,190.5L354.6,190.4L354.0,190.6L354.4,191.6L353.7,191.9L355.0,191.9L355.1,192.6L353.7,193.6L352.5,194.1L352.9,194.8L354.7,194.8L355.9,195.4L357.2,195.0L356.9,195.9L354.7,195.9L354.0,196.6L352.9,197.5L351.6,198.8L352.9,198.9L354.6,198.0L356.0,198.3L356.2,197.4L358.1,197.5L359.1,197.4L360.4,197.0L361.5,197.0L363.5,197.0L365.0,196.5L365.8,196.0Z" fill="#ffffd9"/>
<path d="M336.7,164.2L339.3,162.3L337.8,160.7L337.5,159.5L335.1,159.2L333.1,159.6L331.0,160.0L328.2,160.1L327.7,161.1L325.8,160.3L323.5,159.3L321.8,160.1L320.3,161.4L322.1,161.5L323.8,161.5L324.4,162.3L320.9,162.9L322.7,163.5L324.4,164.1L322.8,165.3L324.9,165.6L327.1,165.9L329.7,166.3L333.2,165.3Z" fill="#ffffd9"/>
<path d="M384.6,175.2L386.0,174.1L385.4,171.9L386.3,171.1L385.0,170.3L385.1,168.8L384.5,167.2L384.7,165.8L387.7,164.9L387.8,163.8L387.0,163.5L388.3,161.9L388.1,160.1L389.7,159.6L391.0,157.6L390.4,156.9L393.3,155.8L393.6,154.7L396.7,154.9L397.4,153.4L399.1,152.9L400.6,154.2L402.8,154.0L405.1,154.5L406.1,153.6L406.2,152.0L409.2,151.3L411.8,152.5L411.5,153.5L413.0,152.1L414.2,151.8L412.9,152.0L412.3,151.3L414.3,150.6L412.0,150.4L409.7,150.3L409.7,149.7L408.3,149.0L407.2,149.4L405.1,148.9L403.5,149.4L401.9,150.0L399.3,150.7L396.9,151.2L394.4,152.1L391.5,153.6L390.8,154.9L389.3,155.8L387.6,157.4L385.7,158.5L384.8,160.1L383.9,161.4L382.4,162.8L380.6,164.4L380.2,165.7L378.4,165.8L376.7,167.0L374.0,168.4L372.2,169.1L372.0,169.8L372.0,171.9L372.3,173.3L372.6,175.7L373.4,176.8L373.6,177.7L375.4,178.9L376.2,179.1L378.0,178.9L379.8,177.8L381.6,176.7L382.3,176.0L382.7,174.5L383.3,176.3L383.7,176.7L384.9,176.1ZM388.7,131.0L391.1,131.7L393.3,132.1L395.6,132.5L398.1,132.4L400.6,132.3L401.6,131.0L399.4,130.9L397.2,130.7L394.6,130.5L392.1,130.3L390.4,130.7ZM389.6,131.7L387.8,131.5L385.9,131.2L383.8,131.6L381.2,131.7L378.5,131.7L379.8,133.4L381.6,134.3L383.5,135.3L385.6,136.8L387.1,137.2L388.7,137.6L390.6,135.9L390.9,134.0L392.6,133.7L394.4,133.4L392.0,132.6ZM397.8,134.9L395.9,134.7L394.0,134.5L394.7,135.7L396.7,136.3L398.1,136.1L399.6,135.9Z" fill="#ffffd9"/>
<path d="M404.0,158.5L403.1,157.0L403.1,156.0L400.1,154.7L397.4,153.4L396.7,154.9L393.6,154.7L393.3,155.8L390.4,156.9L391.0,157.6L389.7,159.6L388.1,160.1L388.3,161.9L387.0,163.5L387.8,163.8L387.7,164.9L384.7,165.8L384.5,167.2L385.1,168.8L385.0,170.3L386.3,171.1L385.4,171.9L386.0,174.1L384.6,175.2L384.9,176.1L383.7,176.7L383.9,178.1L385.3,179.8L387.4,182.4L386.7,183.2L387.2,183.8L387.8,185.0L388.2,185.5L389.5,185.4L390.5,185.1L390.3,184.1L392.7,183.6L394.1,182.4L394.4,179.7L393.9,177.7L394.8,177.4L397.1,176.0L397.8,174.5L396.9,173.6L394.4,172.6L394.1,170.3L394.3,168.7L395.3,168.1L396.4,166.6L399.2,165.5L400.2,163.3L400.5,161.9L401.6,161.3L404.9,160.7L403.8,159.6Z" fill="#ffffd9"/>
<path d="M417.2,169.8L419.0,168.4L419.4,167.4L416.2,165.6L416.8,164.4L415.0,162.8L415.3,161.0L412.9,158.3L414.0,156.5L411.2,155.3L411.5,153.5L411.8,152.5L410.9,152.1L409.5,151.8L408.0,151.6L406.2,152.0L406.1,153.6L405.1,154.5L402.8,154.0L400.6,154.2L399.1,152.9L397.4,153.4L400.1,154.7L403.1,156.0L403.1,157.0L404.0,158.5L403.8,159.6L404.9,160.7L405.7,161.0L407.5,162.6L406.0,163.3L403.9,165.2L403.4,165.3L401.4,167.0L401.3,168.8L402.2,170.7L401.9,172.4L403.7,173.3L405.3,174.7L407.1,174.3L408.8,173.9L410.6,173.6L412.4,173.2L413.9,173.0L415.7,171.4Z" fill="#ffffd9"/>
<path d="M441.9,204.3L443.7,204.3L443.9,203.3L443.1,202.4L443.4,199.9L441.2,199.5L439.0,199.2L437.8,198.0L434.0,197.9L433.3,196.4L430.9,194.4L429.4,193.0L427.5,193.3L425.6,193.6L424.4,195.4L424.0,195.3L423.5,195.8L421.0,195.4L417.9,194.9L415.1,194.5L414.1,194.4L412.9,194.5L409.6,194.9L410.5,195.6L410.3,196.0L410.9,196.8L410.3,197.9L408.5,199.9L408.4,201.2L407.8,202.9L409.4,204.0L411.5,204.3L413.5,204.6L414.4,204.4L416.6,203.5L416.7,203.5L416.9,203.3L418.8,202.8L420.5,203.6L422.1,204.1L422.4,205.4L423.4,206.6L424.3,207.9L422.4,208.3L422.4,209.2L421.7,210.3L421.1,210.5L424.0,210.9L424.0,210.9L424.2,210.9L424.4,210.9L424.3,211.0L425.6,208.9L425.9,207.8L427.4,207.7L428.6,208.8L432.0,209.1L430.0,210.7L431.8,211.1L432.2,212.7L433.7,213.0L436.1,211.6L438.1,211.5L438.2,210.5L435.7,210.7L434.4,208.7L435.3,208.3L438.2,207.1L439.6,206.4L441.0,206.2L440.8,205.0Z" fill="#ffffd9"/>
<path d="M457.9,221.2L460.5,221.4L461.5,221.2L460.6,219.7L458.7,218.1L457.6,217.7L456.1,217.4L454.7,217.8L451.7,216.3L449.8,216.1L447.8,215.3L446.6,215.7L448.6,216.8L450.4,219.0L450.6,220.2L450.3,220.5L450.5,220.6L452.6,220.8L454.7,221.7Z" fill="#ffffd9"/>
<path d="M458.7,225.2L460.5,226.1L461.0,226.3L461.5,227.5L462.3,227.4L462.0,225.7L459.8,224.6L460.4,223.9L459.1,223.0L459.4,222.4L457.9,221.2L454.7,221.7L455.6,222.7L455.6,224.3L458.3,225.3Z" fill="#edf8b1"/>
<path d="M460.8,225.1L462.0,225.7L462.3,227.4L463.2,226.6L464.6,225.3L465.9,226.1L465.5,227.6L467.6,228.7L467.5,227.8L468.0,226.3L469.7,223.6L468.1,223.0L466.3,221.2L465.2,219.7L464.1,221.4L462.7,221.2L461.5,220.0L460.6,219.7L461.5,221.2L460.5,221.4L458.3,221.3L458.1,221.4L459.4,222.4L459.1,223.0L460.4,223.9L460.0,224.4ZM461.5,227.5L461.0,226.3L460.5,226.1L458.7,225.2L458.3,225.3L458.7,226.1L460.0,227.1Z" fill="#edf8b1"/>
<path d="M442.7,239.6L441.6,241.4L441.4,241.7L441.0,242.1L441.1,243.5L441.9,243.6L443.9,244.6L447.8,241.8L450.0,240.4L452.3,239.1L452.6,238.0L452.7,235.8L452.2,233.9L454.2,232.0L451.7,232.0L449.2,232.8L447.1,232.8L444.9,232.7L442.8,233.2L442.0,232.8L442.3,234.3L441.7,234.4L441.2,235.3L440.7,235.0L440.5,236.2L441.2,238.4L442.3,238.6Z" fill="#edf8b1"/>
<path d="M440.7,242.5L441.0,242.1L441.4,241.7L441.6,241.4L442.7,239.6L442.3,238.6L441.2,238.4L440.9,238.9L440.4,240.4L439.8,242.5L439.8,242.5L439.8,242.5Z" fill="#ffffd9"/>
<path d="M440.5,251.7L440.8,249.8L441.1,247.7L441.2,246.6L441.0,244.3L441.1,243.5L441.0,242.1L440.7,242.5L439.8,242.5L439.8,242.5L439.7,243.3L439.3,245.2L438.8,246.6L438.4,247.2L440.3,251.9Z" fill="#ffffd9"/>
<path d="M444.3,250.9L445.9,250.6L446.9,249.3L444.4,246.6L446.8,245.8L449.1,244.9L447.8,241.8L443.9,244.6L441.9,243.6L441.1,243.5L441.0,244.8L441.2,246.6L441.1,247.7L440.8,249.8L440.5,251.7L440.3,251.8L440.3,251.8L440.5,251.8L440.5,252.3L443.0,252.6Z" fill="#ffffd9"/>
<path d="M451.8,245.5L455.6,247.7L458.8,250.2L462.1,252.6L466.2,252.9L467.9,250.6L469.1,250.6L469.3,250.7L469.9,250.8L470.4,250.7L469.0,249.3L468.8,247.9L468.0,246.9L468.1,245.3L463.9,242.7L462.0,240.1L463.3,237.3L461.2,234.9L459.4,231.8L458.2,232.3L456.6,231.7L454.2,232.0L452.2,233.9L452.7,235.8L452.6,238.0L452.3,239.1L450.0,240.4L447.8,241.8L449.1,244.9Z" fill="#ffffd9"/>
<path d="M467.9,250.6L466.2,252.9L468.3,253.2L469.0,254.4L470.5,254.3L469.3,252.3L469.4,250.8L469.7,250.8L469.5,250.7L469.3,250.7L469.1,250.6Z" fill="#ffffd9"/>
<path d="M478.8,264.7L478.8,264.5L478.5,262.8L477.6,260.6L476.7,262.3L476.9,264.2L476.7,263.9L476.7,264.2L477.9,264.8Z" fill="#c7e9b4"/>
<path d="M481.4,268.9L484.3,269.3L487.2,269.7L487.3,269.6L488.3,265.7L488.6,263.9L489.4,263.6L489.4,263.6L489.3,263.3L489.2,262.3L489.0,262.0L488.7,261.6L488.5,261.1L488.3,261.5L486.9,262.9L485.1,265.0L481.1,265.7L478.9,265.6L478.8,265.3L478.6,265.4L478.9,265.7Z" fill="#ffffd9"/>
<path d="M489.2,261.9L489.0,260.1L488.5,261.1L488.7,261.6L489.0,262.0ZM488.5,271.4L488.0,274.0L487.5,276.6L484.2,277.9L480.9,279.2L482.3,282.3L483.8,285.4L485.8,284.5L488.4,283.2L491.3,281.9L492.2,279.8L493.6,277.6L495.3,275.6L496.9,273.0L497.7,270.1L494.7,267.2L490.4,265.3L489.5,263.6L489.4,263.6L488.4,264.9L488.4,265.2L488.3,265.7L487.3,269.6Z" fill="#ffffd9"/>
<path d="M418.4,252.6L418.7,257.3L419.0,262.0L419.2,266.7L419.4,271.4L423.4,271.4L427.5,271.4L431.6,271.4L435.6,271.4L439.7,271.4L443.7,271.4L446.2,271.4L442.9,268.0L443.4,266.5L441.5,263.9L439.9,261.0L438.5,257.9L436.4,255.0L434.8,251.9L435.1,250.7L435.9,252.4L437.7,255.0L439.4,256.4L440.3,251.9L438.4,247.2L437.5,247.7L434.1,247.3L431.2,246.5L428.9,247.4L427.0,248.3L422.9,247.0L420.6,246.6L418.3,246.3L417.6,250.3Z" fill="#c7e9b4"/>
<path d="M446.1,289.4L446.4,291.5L449.5,289.9L452.0,290.7L456.2,291.9L460.0,296.3L461.7,295.7L460.7,294.9L459.9,294.4L457.1,292.0L454.7,289.9L452.9,288.1L451.7,285.0L450.5,282.0L447.1,284.3Z" fill="#ffffd9"/>
<path d="M458.8,300.1L461.4,300.2L462.1,298.9L461.8,298.5L460.5,298.5L462.3,296.5L461.7,295.7L460.0,296.3Z" fill="#ffffd9"/>
<path d="M474.4,280.3L472.4,281.3L469.9,284.5L468.4,283.8L465.7,283.3L461.6,283.2L461.3,285.4L460.3,286.0L460.2,286.1L461.0,290.2L461.9,294.1L462.4,295.8L465.9,295.4L469.3,293.9L472.6,292.3L475.1,291.0L479.3,288.9L481.9,286.5L483.8,285.4L482.3,282.3L480.9,279.2L477.6,279.8Z" fill="#ffffd9"/>
<path d="M466.1,253.0L465.7,252.9L462.1,252.6L458.8,250.2L455.6,247.7L451.8,245.5L449.1,244.9L446.8,245.8L444.4,246.6L446.9,249.3L445.9,250.6L444.3,250.9L443.0,252.6L440.5,252.3L440.5,252.4L440.0,255.6L442.6,257.5L444.5,260.3L446.5,263.1L448.5,265.9L449.9,269.3L451.4,272.7L453.7,275.8L456.0,278.9L456.9,280.6L459.8,284.7L460.2,286.0L460.2,286.1L460.3,286.0L461.3,285.4L461.6,283.2L465.7,283.3L468.4,283.8L469.9,284.5L472.4,281.3L474.4,280.3L477.6,279.8L480.9,279.2L484.2,277.9L487.5,276.6L488.0,274.0L488.5,271.4L487.3,269.6L487.2,269.7L484.3,269.3L481.4,268.9L478.9,265.7L478.6,265.4L478.8,265.3L478.8,264.8L478.2,264.7L477.9,264.8L477.6,264.7L477.4,264.6L477.4,264.5L476.7,264.2L476.7,263.9L475.4,262.0L475.0,259.8L473.8,258.4L470.5,254.3L469.0,254.4L468.7,253.9Z" fill="#ffffd9"/>
<path d="M480.8,231.1L483.7,229.6L485.5,229.1L488.0,230.0L490.4,231.0L493.2,233.2L494.9,233.3L495.7,236.0L498.2,237.0L499.6,235.3L502.3,234.1L502.5,232.0L504.1,231.5L506.1,231.4L505.6,229.7L503.0,228.5L500.4,227.2L495.7,224.5L493.7,221.7L489.7,220.9L488.9,218.8L485.6,217.3L482.8,219.6L483.2,221.2L479.9,221.2L476.3,218.6L473.9,219.7L474.1,220.1L474.7,221.9L475.4,224.5L475.5,226.1L477.0,226.3L478.3,228.4L478.6,231.1L478.8,231.4L478.9,231.4Z" fill="#ffffd9"/>
<path d="M511.3,220.8L514.1,220.8L517.5,222.3L515.1,224.1L512.5,223.9L510.2,224.6L510.9,225.7L513.8,226.1L516.8,226.3L519.8,225.9L519.8,224.9L521.7,223.4L524.7,223.5L525.4,221.9L528.2,220.9L531.4,218.8L528.4,217.3L524.9,217.2L521.4,217.0L518.0,216.3L516.5,216.8L517.0,218.1L514.4,217.7L511.9,217.3L511.9,218.7L511.3,219.3Z" fill="#7fcdbb"/>
<path d="M483.2,221.1L482.8,219.6L485.6,217.3L488.9,218.8L489.7,220.9L493.7,221.7L495.7,224.5L500.4,227.2L503.0,228.5L505.6,229.7L506.1,231.4L508.9,231.8L509.5,229.2L507.5,227.1L506.5,225.8L509.3,224.5L508.5,224.0L509.7,222.6L512.5,222.3L512.5,223.9L515.1,224.1L517.5,222.3L515.5,221.4L513.9,220.8L511.3,220.8L511.3,219.3L511.9,218.7L510.1,219.0L508.5,221.0L506.3,221.5L502.8,219.6L501.7,219.3L501.1,216.8L498.2,215.0L496.2,215.2L494.2,215.3L492.1,215.5L489.4,213.2L486.5,211.7L483.6,210.2L481.1,210.9L478.6,211.6L479.9,216.4L481.1,221.2L483.1,221.2Z" fill="#edf8b1"/>
<path d="M512.2,232.0L513.8,230.9L513.4,228.7L515.6,228.9L516.0,230.0L517.1,233.0L519.6,232.3L521.9,232.0L524.1,231.7L524.2,229.7L523.0,228.4L521.1,228.4L519.8,225.9L516.8,226.3L513.8,226.1L510.9,225.7L510.2,224.6L512.5,223.9L512.5,222.3L509.7,222.6L508.5,224.0L509.3,224.5L507.2,225.5L506.7,226.1L507.5,227.1L509.5,229.2L508.9,231.8L509.5,232.4Z" fill="#edf8b1"/>
<path d="M480.6,219.3L480.0,217.0L479.4,214.5L478.6,211.6L481.1,210.9L483.6,210.2L486.5,211.7L489.4,213.2L492.1,215.5L494.2,215.3L496.2,215.2L498.2,215.0L501.1,216.8L501.7,219.3L502.8,219.6L506.3,221.5L508.5,221.0L510.1,219.0L511.9,218.7L511.9,217.3L514.4,217.7L517.0,218.1L516.5,216.8L518.0,216.3L521.4,217.0L524.9,217.2L528.4,217.3L531.4,218.8L531.6,216.4L530.2,214.2L528.4,211.6L530.8,211.4L533.2,211.2L532.4,210.3L532.1,206.0L534.7,206.0L537.4,206.0L536.8,202.9L538.6,201.0L537.0,199.9L534.1,199.1L531.3,198.3L528.6,196.4L525.4,196.6L522.2,196.9L518.6,193.8L515.0,190.6L511.7,187.9L511.1,188.4L509.5,189.3L507.9,190.1L506.0,190.3L505.6,188.9L503.2,188.7L500.7,188.5L498.9,185.7L495.4,185.7L494.2,186.4L491.7,187.2L489.1,188.0L487.1,188.2L485.0,188.4L483.2,188.7L481.4,189.0L482.2,190.1L484.4,191.4L482.0,192.1L482.9,193.1L481.3,194.1L485.0,195.6L485.1,196.9L481.5,197.5L479.3,196.4L476.1,196.1L473.9,197.4L471.4,196.4L468.6,195.1L466.2,194.5L463.3,194.6L461.2,196.8L459.4,197.4L457.6,198.1L457.0,200.5L457.6,201.2L457.0,202.9L458.5,204.1L460.7,204.7L462.1,207.3L463.4,208.0L465.2,207.4L467.1,206.8L469.1,206.8L471.4,207.8L472.6,210.9L468.7,210.9L468.3,212.7L467.2,213.2L469.5,215.1L470.2,216.8L472.9,217.5L474.1,220.1L473.9,219.7L476.3,218.6L479.9,221.2L481.1,221.2Z" fill="#edf8b1"/>
<path d="M545.5,204.2L549.1,207.5L549.4,209.7L550.7,211.1L553.4,211.4L556.1,211.8L560.8,213.4L564.7,217.4L568.5,217.5L572.3,217.7L574.5,217.9L578.6,218.8L582.7,219.6L584.1,220.4L586.2,219.3L588.3,218.2L592.0,218.2L593.9,217.3L595.8,215.0L594.0,213.4L594.0,211.5L597.9,212.3L598.8,210.6L601.2,210.5L601.9,208.3L604.3,207.5L608.0,207.3L607.1,206.5L602.3,204.9L599.8,204.1L597.3,203.3L596.9,201.9L596.6,199.3L593.9,198.8L591.1,198.3L589.6,199.9L587.7,200.4L585.8,200.9L583.3,200.7L580.9,200.5L575.8,198.0L573.3,198.3L570.7,198.5L566.7,197.4L565.4,195.6L561.6,194.6L557.7,193.6L558.8,197.5L557.9,199.5L554.3,198.5L550.7,197.4L546.9,196.9L544.7,198.0L542.5,199.2L539.6,201.0L542.3,203.5Z" fill="#ffffd9"/>
<path d="M634.6,216.9L634.8,218.2L633.9,219.1L632.1,219.3L632.7,220.8L629.9,219.9L628.1,222.8L627.1,224.5L627.4,225.0L628.9,225.6L630.5,227.9L630.2,229.4L632.0,230.5L634.9,230.4L634.9,228.9L637.4,228.1L634.7,226.7L634.2,225.0L635.4,224.5L637.2,222.4L636.0,219.9L637.1,218.6L636.9,218.3Z" fill="#ffffd9"/>
<path d="M635.1,231.1L634.8,232.8L635.7,232.8L637.1,236.0L637.5,238.0L638.5,239.3L641.2,238.0L643.3,237.3L642.9,234.9L642.1,233.1L639.9,230.4L637.4,228.1L634.9,228.9L634.9,230.4Z" fill="#ffffd9"/>
<path d="M662.6,214.1L659.7,213.2L655.2,210.3L656.4,212.9L657.7,216.0L656.0,216.0L655.7,217.8L657.4,219.9L658.8,220.8L659.9,219.9L657.4,218.8L658.7,218.6L660.0,217.9L664.0,219.3L664.9,216.9L667.0,215.9L666.1,216.1L664.5,213.7L664.3,213.4ZM657.1,231.4L657.6,232.6L657.1,234.3L657.5,235.7L656.0,235.7L654.3,235.8L651.9,236.1L650.7,236.3L649.8,237.8L648.2,239.1L648.5,240.3L651.2,240.5L651.1,239.3L652.7,239.3L654.4,238.4L657.3,238.4L657.7,240.4L659.6,241.6L660.3,240.4L660.8,238.9L660.3,237.5L661.0,238.6L663.6,238.6L665.1,238.4L665.0,236.9L665.9,236.1L666.9,237.8L667.7,237.1L668.0,235.6L666.8,234.4L666.6,232.3L665.0,229.2L665.8,228.7L665.2,225.6L662.7,223.2L661.1,220.9L660.7,221.0L660.3,221.4L659.2,221.7L659.3,223.2L660.4,224.8L661.2,226.6L661.6,229.2L660.4,230.2L660.4,231.8L658.3,232.8L658.1,231.0ZM654.9,241.4L656.5,242.1L656.9,240.6L656.4,239.6L654.7,239.1L653.0,240.1L652.3,241.6L653.1,242.9L654.4,243.4ZM646.6,241.9L647.4,243.5L649.3,243.8L648.8,244.8L649.6,246.9L651.0,247.9L651.5,247.2L652.2,246.6L651.7,242.7L650.6,241.0L648.6,240.4L647.8,241.2Z" fill="#ffffd9"/>
<path d="M633.8,264.6L633.1,266.7L633.3,268.8L635.0,270.6L635.5,271.6L636.0,268.8L636.2,266.2L636.5,263.6L635.3,262.8L634.2,263.6Z" fill="#7fcdbb"/>
<path d="M523.7,232.3L526.5,233.1L527.4,234.9L531.6,236.2L533.6,238.8L535.9,242.7L537.1,244.0L536.5,247.2L539.3,248.6L542.0,250.0L544.2,249.8L547.0,251.6L549.9,253.4L554.3,255.8L556.7,255.9L559.1,256.0L560.6,255.8L561.2,257.6L562.7,255.1L566.9,256.0L567.8,256.4L570.6,253.9L573.6,252.6L576.2,252.1L579.4,255.1L581.3,256.8L582.8,256.8L583.8,261.3L581.9,264.4L582.5,266.5L585.5,268.3L587.0,269.1L586.7,271.2L588.9,272.7L591.3,272.6L592.9,273.5L592.2,270.1L593.2,270.4L595.0,270.1L597.2,270.1L600.0,268.0L603.2,269.2L603.0,270.1L604.3,271.8L606.8,272.7L609.2,272.7L610.6,272.7L610.8,274.3L612.3,276.0L612.5,273.5L615.6,271.9L618.9,271.2L618.9,270.1L620.4,270.6L622.0,269.6L625.5,267.9L628.0,264.9L629.6,263.1L630.5,261.0L631.4,258.4L632.1,256.0L633.3,255.0L633.5,252.6L632.7,250.8L630.1,249.8L631.7,247.9L631.1,246.1L627.6,242.7L625.1,239.6L622.6,238.2L622.1,237.5L623.4,234.8L625.8,232.6L626.8,231.3L625.6,231.0L622.1,230.2L621.3,230.5L619.0,231.8L618.8,230.2L615.7,229.2L614.4,227.1L617.1,224.8L618.8,222.3L621.8,223.2L622.2,226.1L622.1,227.6L624.7,225.6L627.1,224.5L628.1,222.8L629.9,219.9L632.3,220.6L632.5,220.4L632.1,219.3L633.9,219.1L634.8,218.2L634.6,216.9L635.7,217.6L636.7,216.8L636.7,218.2L636.7,218.2L636.7,215.7L633.6,211.9L635.1,211.0L637.6,211.4L637.0,208.4L636.2,205.5L635.4,203.1L633.7,203.9L632.0,204.7L628.8,204.7L624.9,201.7L621.6,200.5L618.3,199.4L614.4,195.6L608.5,191.3L606.0,190.6L603.6,190.0L601.3,190.3L599.0,190.6L598.3,192.0L599.8,192.5L600.3,195.1L600.8,198.0L599.4,200.2L596.6,199.3L596.9,201.9L597.3,203.3L599.8,204.1L602.3,204.9L607.1,206.5L608.0,207.3L604.3,207.5L601.9,208.3L601.2,210.5L598.8,210.6L597.9,212.3L594.0,211.5L594.0,213.4L595.8,215.0L593.9,217.3L592.0,218.2L588.3,218.2L586.2,219.3L584.1,220.4L582.7,219.6L578.6,218.8L574.5,217.9L572.3,217.7L568.5,217.5L564.7,217.4L560.8,213.4L556.1,211.8L553.4,211.4L550.7,211.1L549.4,209.7L549.1,207.5L545.5,204.2L542.3,203.5L539.6,201.0L538.6,201.0L536.8,202.9L537.4,206.0L534.7,206.0L532.1,206.0L532.4,210.3L533.2,211.2L530.8,211.4L528.4,211.6L530.2,214.2L531.6,216.4L531.4,218.8L528.2,220.9L525.4,221.9L524.7,223.5L521.7,223.4L519.8,224.9L519.8,225.9L521.1,228.4L523.0,228.4L524.2,229.7L524.1,231.7ZM613.2,276.4L610.4,276.9L609.3,278.7L609.6,280.6L611.8,281.3L613.4,280.0L614.3,277.6Z" fill="#ffffd9"/>
<path d="M547.2,256.6L548.7,257.5L551.6,257.6L554.6,259.4L557.4,259.9L559.8,259.9L559.6,258.1L559.3,256.0L559.1,256.0L556.7,255.9L554.3,255.8L549.9,253.4L547.0,251.6L546.3,251.1L545.6,250.9L542.0,250.0L540.9,251.1L540.8,253.7L543.5,254.9Z" fill="#ffffd9"/>
<path d="M563.5,259.2L566.1,258.9L568.5,258.8L568.1,257.1L567.8,256.4L566.9,256.0L562.7,255.1L561.2,257.6L561.0,257.1L560.9,258.0L561.7,258.9Z" fill="#ffffd9"/>
<path d="M571.8,271.6L570.6,268.0L569.7,267.1L569.2,268.9L568.0,267.5L568.0,267.0L569.4,265.7L569.9,264.9L570.1,263.5L567.8,263.3L565.6,263.2L564.3,262.8L562.7,261.0L560.4,259.6L560.1,261.4L561.1,263.1L560.7,264.8L562.7,268.3L563.5,270.9L564.0,272.3L564.9,271.9L566.5,271.8L567.0,270.9L568.0,270.1L569.9,270.6L570.5,272.9L571.6,274.4L572.1,273.2Z" fill="#ffffd9"/>
<path d="M546.2,307.9L546.5,310.5L547.1,312.6L548.3,313.3L550.7,312.0L551.1,309.5L549.4,306.5L547.1,303.2L546.1,303.2L546.5,305.6Z" fill="#ffffd9"/>
<path d="M519.9,265.0L522.3,264.5L519.8,261.3L519.7,259.6L518.1,258.0L519.5,255.8L523.0,255.9L524.7,253.2L525.4,250.7L526.2,249.5L527.3,247.7L526.9,245.6L528.4,244.6L526.4,243.4L524.9,242.2L523.9,239.3L524.6,238.3L528.3,238.3L530.2,237.5L531.6,236.2L527.4,234.9L526.5,233.1L523.7,232.3L523.7,232.2L523.5,232.2L522.0,232.6L519.4,232.8L517.0,234.8L518.5,237.0L518.0,239.9L515.4,240.1L516.7,241.8L515.1,242.5L515.3,245.5L512.8,245.9L511.8,246.9L509.3,248.2L509.7,250.9L507.5,251.4L505.2,251.9L501.5,252.1L497.8,250.9L500.5,254.3L502.6,255.1L503.0,257.6L504.1,257.9L504.1,259.4L501.2,260.3L501.0,263.1L502.6,263.3L505.3,262.9L507.7,263.1L511.9,262.6L513.1,264.1L514.5,266.3L516.3,267.0L517.5,265.4Z" fill="#ffffd9"/>
<path d="M524.0,231.7L521.9,232.0L519.6,232.3L517.1,233.0L516.0,230.0L515.6,228.9L513.7,228.7L513.5,228.8L513.8,230.9L512.2,232.0L509.5,232.4L508.9,231.8L506.1,231.4L504.1,231.5L502.5,232.0L502.3,234.1L499.6,235.3L498.2,237.0L495.7,236.0L495.7,238.6L495.2,241.0L495.6,242.5L496.9,246.6L498.9,246.9L499.3,248.3L497.8,250.9L501.5,252.1L505.2,251.9L507.5,251.4L509.7,250.9L509.3,248.2L511.8,246.9L512.8,245.9L515.3,245.5L515.1,242.5L516.7,241.8L515.4,240.1L518.0,239.9L518.5,237.0L517.0,234.8L519.4,232.8L522.0,232.6L523.5,232.2L523.7,232.2L523.7,232.3L524.0,231.9Z" fill="#ffffd9"/>
<path d="M459.9,224.5L459.8,224.6L462.0,225.7L460.8,225.1L460.1,224.5ZM470.5,250.7L471.2,249.5L474.0,250.6L475.8,253.4L478.9,256.2L480.2,257.3L482.4,259.2L485.6,259.6L488.6,258.0L489.9,258.1L490.3,259.2L492.3,261.9L495.5,262.4L498.8,262.8L501.0,263.1L501.2,260.3L504.1,259.4L504.1,257.9L503.0,257.6L502.6,255.1L500.5,254.3L497.8,250.9L499.3,248.3L498.9,246.9L496.9,246.6L495.6,242.5L495.2,241.0L495.7,238.6L495.7,236.0L494.9,233.3L493.2,233.2L490.4,231.0L488.0,230.0L485.5,229.1L483.7,229.6L480.8,231.1L478.9,231.4L478.8,231.4L478.6,231.1L479.3,232.6L476.5,233.1L475.2,233.3L471.8,232.3L469.4,231.1L467.6,228.7L465.5,227.6L465.9,226.1L464.6,225.3L463.2,226.6L462.3,227.4L461.5,227.5L460.0,227.1L458.7,226.1L458.3,225.3L457.6,226.1L456.8,226.2L457.6,227.5L458.0,229.7L459.4,231.8L461.2,234.9L463.3,237.3L462.0,240.1L463.9,242.7L468.1,245.3L468.0,246.9L468.8,247.9L469.0,249.3L470.4,250.7Z" fill="#ffffd9"/>
<path d="M591.1,298.0L589.5,294.4L589.5,293.1L588.1,291.5L586.9,289.2L587.4,286.8L587.4,285.5L584.0,280.6L584.8,280.6L584.9,277.3L587.1,277.2L588.0,275.7L589.4,275.7L591.3,272.6L588.9,272.7L586.7,271.2L587.0,269.1L585.5,268.3L582.5,266.5L581.9,264.4L583.8,261.3L582.8,256.8L581.3,256.8L579.4,255.1L579.0,254.7L577.1,256.4L574.9,258.4L573.5,262.3L571.9,266.2L571.9,268.8L571.8,271.4L571.8,271.5L571.8,271.6L572.1,273.2L571.6,274.4L573.2,276.2L575.0,278.2L576.9,280.6L577.6,283.9L577.7,287.1L580.4,287.7L582.1,285.6L583.3,283.7L585.1,285.8L586.0,289.0L587.0,292.2L588.6,296.3L588.7,300.1L589.1,302.8L589.4,301.7Z" fill="#ffffd9"/>
<path d="M519.2,269.3L521.2,268.9L521.1,269.9L518.4,270.8L520.0,272.3L521.9,274.3L523.5,274.8L525.9,272.1L526.4,270.9L527.1,273.8L527.7,275.6L528.0,279.2L528.9,281.9L529.7,284.5L531.2,288.5L532.7,291.9L534.2,295.3L536.5,299.5L537.9,302.8L539.7,306.8L541.1,307.7L542.4,305.8L545.0,304.7L544.2,303.8L544.6,302.5L546.1,301.9L545.8,297.6L546.6,294.6L546.0,291.2L545.6,288.6L547.3,287.7L548.1,286.3L550.2,284.6L552.2,282.6L555.4,278.6L557.3,277.2L559.1,275.9L559.8,272.7L561.5,271.6L562.0,272.5L564.0,272.3L563.5,270.9L562.7,268.3L560.7,264.8L561.1,263.1L560.1,261.4L560.4,259.6L562.7,261.0L564.3,262.8L565.6,263.2L567.8,263.3L570.1,263.5L569.9,264.9L569.4,265.7L568.0,267.0L568.0,267.5L569.2,268.9L569.7,267.1L570.6,268.0L571.8,271.6L571.8,271.5L571.8,271.4L571.9,268.8L571.9,266.2L573.5,262.3L574.9,258.4L577.1,256.4L579.0,254.7L579.4,255.1L576.2,252.1L573.6,252.6L570.6,253.9L567.8,256.4L568.1,257.1L568.5,258.8L566.1,258.9L563.5,259.2L561.7,258.9L560.9,258.0L561.0,257.1L560.6,255.8L559.3,256.0L559.6,258.1L559.8,259.9L557.4,259.9L554.6,259.4L551.6,257.6L548.7,257.5L547.2,256.6L543.5,254.9L540.8,253.7L540.9,251.1L542.0,250.0L539.3,248.6L536.5,247.2L537.1,244.0L535.9,242.7L533.6,238.8L531.6,236.2L530.2,237.5L528.3,238.3L524.6,238.3L523.9,239.3L524.9,242.2L526.4,243.4L528.4,244.6L526.9,245.6L527.3,247.7L526.2,249.5L525.4,250.7L524.7,253.2L523.0,255.9L519.5,255.8L518.1,258.0L519.7,259.6L519.8,261.3L522.3,264.5L519.9,265.0L517.5,265.4L516.3,267.0ZM545.6,250.9L546.3,251.1L547.0,251.6L544.2,249.8L542.0,250.0Z" fill="#ffffd9"/>
<path d="M596.9,293.5L598.2,291.8L600.4,291.4L603.1,291.4L603.6,288.0L601.4,286.0L601.1,283.4L599.0,281.1L597.6,280.8L596.0,282.0L594.7,281.3L592.6,283.0L592.2,280.8L592.3,277.8L590.3,277.4L589.4,275.7L588.0,275.7L587.1,277.2L584.9,277.3L584.8,280.6L584.0,280.6L587.4,285.5L587.4,286.8L586.9,289.2L588.1,291.5L589.5,293.1L589.5,294.4L591.1,298.0L589.4,301.7L589.1,302.8L588.6,306.4L588.8,308.2L590.1,307.8L591.4,309.8L593.1,312.0L593.3,311.3L595.1,312.5L595.5,313.9L597.7,312.5L595.8,310.8L594.2,310.0L592.7,306.9L592.2,304.9L591.0,304.8L590.4,301.4L591.5,298.0L591.7,296.1L591.5,293.9L592.9,293.6L593.8,295.8L594.7,295.8L596.4,296.2L597.6,297.0L598.6,298.4L598.0,297.0Z" fill="#edf8b1"/>
<path d="M593.5,282.3L594.7,281.3L596.0,282.0L597.6,280.8L599.0,281.1L601.1,283.4L601.4,286.0L603.6,288.0L603.1,291.4L605.0,291.4L608.4,290.5L608.2,289.7L606.6,286.3L605.2,284.6L601.6,280.0L598.7,277.6L599.5,275.6L598.0,274.2L595.7,273.9L595.2,272.2L593.2,270.4L592.2,270.1L592.9,273.5L591.3,272.6L589.4,275.7L590.3,277.4L592.3,277.8L592.2,280.8L592.3,281.4Z" fill="#ffffd9"/>
<path d="M606.4,300.6L605.4,298.5L606.6,298.3L609.2,296.2L608.3,293.6L608.4,290.5L605.0,291.4L603.1,291.4L600.4,291.4L598.2,291.8L596.9,293.5L598.0,297.0L598.6,298.4L598.9,299.1L600.2,301.2L601.8,301.2L602.4,301.7L603.8,300.2Z" fill="#ffffd9"/>
<path d="M604.0,302.7L603.5,303.2L603.5,306.4L606.7,304.5L607.7,303.2L608.5,301.8L610.7,300.4L613.0,297.8L613.4,295.8L612.6,292.8L611.3,289.2L609.4,286.8L607.9,285.6L604.9,282.4L602.8,280.0L602.9,276.9L604.3,274.6L606.8,272.7L604.3,271.8L603.0,270.1L603.2,269.2L600.0,268.0L597.2,270.1L595.0,270.1L593.2,270.4L595.2,272.2L595.7,273.9L598.0,274.2L599.5,275.6L598.7,277.6L601.6,280.0L605.2,284.6L606.6,286.3L608.2,289.7L608.4,290.5L608.3,293.6L609.2,296.2L606.6,298.3L605.4,298.5L606.4,300.6L603.8,300.2L602.4,301.7Z" fill="#ffffd9"/>
<path d="M628.1,317.6L628.5,315.9L627.5,315.7L627.3,315.8L625.6,317.1L626.5,318.4Z" fill="#ffffd9"/>
<path d="M617.8,326.6L620.6,326.2L621.5,325.0L624.9,325.5L627.0,325.0L627.8,322.5L628.9,320.7L629.0,317.8L630.0,317.5L633.7,318.0L634.2,318.1L634.3,317.7L635.9,317.2L635.2,315.8L637.3,315.1L634.6,313.5L632.6,311.8L631.4,310.7L629.8,313.2L628.5,315.0L627.3,315.8L627.5,315.7L628.5,315.9L628.1,317.6L626.5,318.4L625.6,317.1L625.3,317.3L623.2,320.5L619.6,322.5L619.2,325.1L617.3,324.5L615.5,323.5L615.4,324.1L616.4,325.4ZM593.6,312.9L593.8,314.7L594.9,318.4L596.4,321.0L598.5,323.1L601.4,325.4L602.1,325.5L603.1,325.1L602.2,322.4L601.0,318.9L600.3,314.8L597.7,312.5L595.5,313.9L595.1,312.5L593.3,311.3L593.1,312.0Z" fill="#ffffd9"/>
<path d="M649.8,352.0L650.0,353.7L653.3,352.3L655.3,350.7L653.9,350.7L652.2,350.9L650.6,351.5Z" fill="#ffffd9"/>
<path d="M687.2,344.0L686.9,348.7L686.6,352.5L686.6,352.5L688.8,352.8L691.6,352.4L691.9,352.0L692.8,350.2L695.0,348.6L697.9,349.5L698.2,351.0L700.6,353.4L702.4,355.1L705.8,355.7L708.4,356.6L709.0,355.5L707.0,355.1L705.6,352.4L703.2,351.2L701.2,348.1L700.9,346.4L702.8,346.3L702.4,344.4L700.6,344.1L698.4,342.4L695.6,338.8L693.7,338.1L690.7,336.8L687.7,335.6L687.7,335.6L687.5,339.4ZM714.5,338.7L713.0,337.1L710.3,335.6L711.4,336.6L713.8,339.2L714.6,341.2L715.3,340.5ZM706.7,345.2L709.7,345.0L712.1,343.4L713.6,341.6L713.3,339.8L711.5,341.8L709.2,343.1L706.9,343.1L704.1,343.5L704.3,344.2ZM719.8,346.0L721.3,346.7L721.4,345.8L718.8,343.1L718.7,344.2Z" fill="#ffffd9"/>
<path d="M643.3,294.5L643.6,293.3L645.6,295.2L646.9,296.1L646.2,294.4L646.2,292.5L643.9,292.0L641.6,292.0L640.2,289.9L640.0,287.6L641.9,286.3L640.8,283.7L640.2,280.6L639.0,280.9L638.7,280.7L636.6,280.6L636.6,283.0L636.7,285.5L637.0,286.9L635.7,286.2L636.2,287.6L637.2,290.1L638.0,291.1L639.0,290.9L638.5,292.8L639.5,292.9L641.2,292.5ZM640.9,295.9L640.0,293.7L637.9,293.6L638.8,295.2L640.4,296.9ZM642.5,299.6L642.6,301.5L644.0,300.9L644.9,298.8L643.8,298.8L642.1,297.8ZM646.0,304.2L647.1,301.7L647.2,299.5L646.6,301.9ZM643.7,302.7L644.2,304.2L645.6,305.2L645.8,303.0L646.0,300.5L644.6,300.2ZM636.3,302.5L637.4,301.3L636.8,299.2L635.8,301.4L634.3,303.1L632.7,305.2L632.1,307.0L633.4,306.0L635.1,304.4ZM649.8,299.9L651.1,300.0L649.6,296.1L647.2,296.1L648.9,298.8ZM647.8,300.2L649.0,302.3L649.6,302.6L650.3,301.9L649.3,299.3L648.0,298.9ZM648.6,303.6L648.7,302.7L647.8,302.3L647.0,303.6ZM651.7,310.3L653.1,312.4L653.9,309.8L653.2,307.9L652.6,305.3L650.8,303.2L649.9,305.3L649.2,306.6L648.2,307.3L647.3,307.4L646.2,306.4L644.3,307.7L643.5,308.5L643.5,310.8L644.0,309.8L644.4,308.7L645.1,309.5L646.6,308.5L646.7,309.0L648.4,310.0L648.0,311.1L648.8,312.6L650.8,312.9L651.4,314.3L652.1,314.2L651.3,311.6Z" fill="#ffffd9"/>
<path d="M629.3,317.9L629.0,317.9L628.9,320.7L627.8,322.5L627.0,325.0L624.9,325.5L621.5,325.0L620.6,326.2L617.8,326.6L616.4,325.4L615.4,324.1L615.5,323.5L614.1,324.9L613.9,326.7L614.6,328.8L614.3,330.1L616.4,333.2L616.7,336.4L620.2,336.4L620.8,337.7L624.3,337.7L626.8,337.9L627.0,339.6L630.0,338.2L630.6,336.6L631.3,334.5L632.2,332.1L633.7,330.4L634.6,326.7L637.1,326.2L634.4,324.9L634.8,322.8L633.8,320.2L634.2,318.5L633.6,318.0L632.8,317.9ZM687.0,347.5L687.2,345.0L687.3,343.0L687.4,340.6L687.6,338.6L687.7,336.1L687.7,335.6L687.0,335.5L682.6,333.6L679.0,333.5L677.4,334.5L675.0,337.5L672.9,337.4L672.1,334.0L671.8,331.0L668.0,329.7L665.4,331.0L665.2,332.7L667.5,334.5L669.8,335.2L667.4,336.5L668.7,339.4L670.8,338.3L671.4,339.0L673.7,340.1L677.1,341.2L678.2,341.6L680.9,343.1L682.2,346.5L681.3,347.6L679.2,350.7L682.2,349.9L685.2,351.0L686.6,352.5L686.6,352.0L686.8,349.5ZM606.4,343.9L606.7,340.0L607.1,336.6L604.6,334.8L603.9,333.8L603.5,331.5L601.4,331.1L602.1,328.8L600.3,327.2L598.4,326.2L596.6,324.4L595.2,323.3L593.3,321.8L590.2,318.9L588.5,317.1L586.5,315.2L582.2,314.3L582.2,315.2L584.2,318.0L588.5,322.3L590.5,324.2L592.9,328.8L594.2,331.3L595.6,335.3L598.4,338.7L602.0,342.4L603.5,343.9L605.2,343.1ZM637.7,342.2L637.8,343.4L639.9,343.4L640.0,341.3L639.9,337.9L639.8,336.6L641.9,335.8L641.6,337.9L642.8,339.4L642.8,341.3L644.6,341.3L645.8,340.3L645.2,339.1L644.3,337.9L644.6,336.6L643.8,334.0L642.8,333.8L645.2,332.7L647.0,331.4L647.3,330.6L644.1,331.1L642.9,331.0L641.2,332.5L639.9,330.9L639.7,328.8L640.1,327.5L641.8,327.6L644.1,327.6L646.5,327.5L648.7,327.9L649.8,327.6L651.0,326.2L651.4,325.0L651.4,324.5L648.7,326.2L645.2,326.2L641.7,325.4L641.3,326.1L639.5,327.0L639.0,328.8L639.1,330.6L638.3,331.4L637.8,334.0L636.8,335.7L636.6,337.9L638.3,339.2ZM617.5,345.5L616.7,346.9L612.6,346.3L612.0,345.2L608.7,344.7L606.8,344.2L604.9,346.5L605.5,346.7L607.8,347.1L610.4,348.9L613.4,349.0L616.3,349.7L619.0,350.4L622.5,350.4L625.8,351.6L625.7,350.2L624.9,348.8L622.0,347.6L619.3,346.1ZM627.4,351.8L628.7,350.7L627.6,349.8L625.8,350.2L626.1,350.7ZM645.4,350.4L645.0,349.9L642.0,351.0L639.7,350.3L638.1,350.7L638.4,351.8L641.9,352.0L644.9,351.2ZM630.4,352.0L630.9,351.0L630.3,350.2L629.0,350.7L629.0,351.8ZM635.0,351.9L636.7,351.2L636.2,350.4L634.6,350.6L634.0,349.9L632.8,350.7L631.1,350.7L631.0,352.0L631.5,352.5ZM638.6,355.7L640.1,354.9L638.3,353.2L636.0,353.3L636.0,354.2ZM656.9,324.9L656.7,326.7L657.2,328.8L657.6,331.1L658.8,331.0L657.7,328.8L659.5,328.0L658.3,326.7L659.5,324.9L657.6,323.1L656.7,323.3ZM661.2,336.1L657.7,336.4L657.5,336.9L658.1,337.7L661.1,337.8L664.3,338.2L664.1,337.4ZM654.6,338.8L655.8,337.7L654.7,336.8L653.1,337.1L653.3,338.2ZM671.2,346.5L672.6,346.8L673.0,343.1L671.4,343.9ZM649.7,353.8L653.3,352.3L650.0,353.7L649.8,352.0L650.6,351.5L652.2,350.9L651.1,351.1L649.7,352.1L647.5,353.2L646.4,355.1L646.1,355.8L648.0,355.3Z" fill="#ffffd9"/>
<path d="M722.7,347.1L724.4,348.2L725.1,347.8L722.5,346.1ZM726.4,348.5L726.6,349.1L729.4,351.1L729.9,350.7ZM723.6,349.9L723.7,350.7L724.8,351.5L725.6,350.4ZM731.8,350.6L731.7,351.5L732.4,353.1L733.3,353.3ZM729.2,353.1L729.5,354.4L731.8,354.6L731.9,353.4ZM732.8,355.7L732.7,356.2L733.8,356.8L735.0,356.7Z" fill="#ffffd9"/>
<path d="M743.1,367.1L742.9,369.2L743.8,369.5L744.3,367.9ZM743.8,371.6L744.4,372.0L744.8,371.1L743.8,370.5ZM745.1,374.7L745.4,375.4L745.9,374.8Z" fill="#ffffd9"/>
<path d="M738.7,385.1L736.0,382.3L734.0,381.2L734.2,382.3L735.5,384.4L738.0,387.0L739.4,387.0Z" fill="url(#hatch)" stroke="#cfcfcf"/>
<path d="M769.6,373.1L772.4,371.8L772.6,371.1L769.3,372.6ZM766.7,376.5L768.7,375.7L768.2,374.2L765.8,374.6L765.5,375.5Z" fill="#ffffd9"/>
<path d="M676.7,371.6L674.0,369.9L672.8,368.7L671.9,367.7L673.5,366.1L673.6,363.7L676.4,361.0L676.1,360.6L674.1,360.1L672.7,360.4L670.3,360.2L669.8,359.8L667.6,358.8L667.0,357.5L664.9,358.1L666.6,358.7L666.5,360.4L664.8,360.7L662.4,361.3L660.9,362.7L659.8,364.3L658.4,366.4L658.6,367.7L657.3,367.7L655.9,367.5L655.4,367.9L654.8,366.1L653.0,364.7L650.3,366.6L647.8,368.7L646.3,370.8L644.3,372.1L643.9,373.9L642.7,371.6L640.4,375.7L638.4,378.1L637.0,379.9L634.6,380.7L631.2,381.7L626.9,382.7L622.7,385.3L620.7,387.5L620.5,385.7L619.1,388.5L617.7,391.4L617.8,393.7L616.9,395.6L616.0,397.0L617.2,401.0L617.4,403.8L617.2,408.3L617.3,412.3L615.9,415.7L614.2,416.3L613.7,418.4L616.2,420.1L619.0,420.2L622.9,418.5L624.7,417.3L629.0,417.1L631.4,416.8L633.8,416.4L635.5,414.9L639.5,413.0L643.1,412.3L646.7,411.5L649.2,411.2L651.6,411.0L653.0,412.3L656.5,412.5L657.0,414.3L657.6,415.4L657.0,418.8L658.4,419.4L660.3,417.7L662.1,416.7L664.0,415.0L665.1,413.6L664.6,415.4L662.8,417.5L660.2,420.7L662.0,420.3L663.8,418.1L663.9,419.8L662.2,421.6L664.0,421.5L664.5,422.2L664.4,424.8L663.8,425.8L664.4,428.0L666.1,428.8L667.9,428.9L669.4,430.1L672.6,428.7L673.9,427.5L674.1,429.5L675.2,430.7L680.4,427.6L685.2,426.6L686.2,425.0L690.4,420.3L693.1,417.1L695.4,414.6L699.5,410.8L701.4,407.8L704.1,403.5L704.3,400.3L705.4,396.6L706.6,393.2L704.8,393.5L703.0,391.0L702.2,389.8L700.8,387.0L699.9,384.0L698.5,381.0L695.6,379.0L695.1,375.9L694.6,372.9L694.2,369.1L692.9,365.8L691.2,366.4L691.2,362.2L690.4,359.4L689.6,356.7L688.7,357.5L687.6,359.8L687.5,361.7L686.7,363.5L686.4,365.1L686.1,367.9L685.0,370.8L683.1,374.3L680.2,374.7L679.1,372.9L677.0,372.1ZM660.3,422.8L661.9,422.3L661.1,421.6L658.6,422.0L658.7,422.7ZM675.7,435.2L673.5,435.7L671.9,436.1L671.2,435.9L669.1,434.9L668.3,436.2L667.7,438.8L667.3,440.1L667.1,442.3L668.6,442.4L671.1,440.6L671.8,441.3L672.6,440.1L674.4,438.5L674.7,438.0L676.3,435.5Z" fill="#c7e9b4"/>
<path d="M734.7,433.0L732.8,435.4L731.5,436.6L732.1,437.2L737.0,434.4L738.2,433.6L739.5,431.8L742.2,431.0L743.4,429.7L746.3,427.1L742.9,427.9L741.4,427.0L741.5,425.8L741.4,424.0L739.8,424.9L740.7,422.3L741.0,420.6L740.7,420.1L739.6,418.5L738.9,418.7L738.6,420.6L738.8,421.4L739.1,423.7L738.8,425.4L738.1,427.4L737.7,428.0L736.1,429.7L734.3,430.6L733.2,431.3L733.8,432.0ZM704.6,448.9L706.5,449.0L707.2,450.1L710.6,449.7L713.7,448.2L715.9,446.2L717.8,444.4L721.1,443.2L722.9,442.9L722.7,442.3L724.5,441.0L727.1,439.3L729.6,437.6L731.2,435.7L728.6,436.3L728.6,435.2L729.4,434.4L728.7,434.4L726.9,435.2L726.0,436.3L723.7,437.6L721.8,439.4L720.7,440.1L717.5,441.6L714.3,443.0L713.2,443.4L710.3,444.9L709.5,445.2L707.2,446.5L705.1,448.0ZM705.1,451.7L706.3,450.8L705.8,450.3L705.0,450.7L704.2,451.7Z" fill="#c7e9b4"/>
<path d="M-31.9,364.0L-31.5,364.8L-30.4,364.8L-30.5,364.0ZM-29.8,365.3L-28.6,365.4L-28.6,365.2L-30.1,364.9Z" fill="#ffffd9"/>
<path d="M-32.9,384.1L-32.3,384.2L-32.2,383.8L-33.0,383.8Z" fill="#ffffd9"/>
<path d="M340.4,256.6L343.7,256.6L343.7,253.9L347.3,251.6L350.8,250.8L352.2,249.3L355.0,248.2L355.0,246.3L356.6,245.2L360.3,245.1L359.3,240.9L359.2,238.2L358.2,237.3L356.5,236.7L353.7,237.0L351.5,235.2L350.2,235.4L348.1,240.0L346.4,241.2L342.7,244.6L341.4,246.6L341.8,249.5L340.4,252.1L338.4,253.7L334.3,255.9L333.7,256.6L337.0,256.6Z" fill="#edf8b1"/>
<path d="M333.7,273.1L333.7,268.8L336.0,267.6L336.1,264.3L336.2,261.0L339.9,261.0L343.6,261.0L343.7,256.6L340.4,256.6L340.1,256.6L337.0,256.6L336.5,256.6L333.7,256.6L333.1,258.1L330.6,260.7L329.6,264.4L327.3,267.0L326.0,270.1L324.7,273.1L329.2,273.1Z" fill="url(#hatch)" stroke="#cfcfcf"/>
<path d="M327.7,285.6L330.2,285.4L332.3,286.8L333.6,288.4L335.2,290.3L336.1,289.9L336.8,288.1L338.6,288.6L340.9,288.6L341.8,288.4L346.1,288.4L350.5,288.4L350.2,285.8L349.8,281.3L349.4,276.9L349.0,272.5L348.6,268.0L348.3,263.6L352.2,263.6L347.9,260.6L343.7,257.6L343.6,261.0L339.9,261.0L336.2,261.0L336.1,264.3L336.0,267.6L333.7,268.8L333.7,273.1L329.2,273.1L324.7,273.1L324.5,274.6L326.3,278.5L326.7,281.6L326.0,284.3L325.5,286.8L325.9,285.8Z" fill="#edf8b1"/>
<path d="M343.7,257.8L343.7,257.6L347.9,260.6L352.2,263.6L356.6,267.0L361.1,270.4L365.6,273.8L365.6,274.7L367.1,275.9L370.2,277.2L370.5,279.2L372.6,278.9L376.1,278.1L379.8,274.4L383.2,272.1L386.6,269.8L389.9,267.5L388.8,265.2L386.0,264.6L384.0,260.5L385.1,259.7L384.9,255.0L384.1,249.9L382.9,245.1L381.3,244.0L379.4,240.6L380.9,238.4L380.9,233.9L381.5,232.4L379.7,232.4L377.9,232.3L374.0,232.8L371.8,232.8L370.7,232.8L369.9,233.0L366.0,233.6L365.5,233.7L363.0,234.9L362.8,234.9L361.6,235.6L358.2,237.3L359.2,238.2L359.3,240.9L360.3,245.1L356.6,245.2L355.0,246.3L355.0,248.2L352.2,249.3L350.8,250.8L347.3,251.6L343.7,253.9L343.7,256.6L343.7,257.8Z" fill="#edf8b1"/>
<path d="M380.8,242.7L382.0,244.5L382.9,245.1L384.1,249.9L385.7,248.2L385.7,246.1L388.3,244.2L388.3,242.3L387.0,241.2L385.0,240.4L386.4,238.2L387.1,237.0L386.1,235.4L385.7,233.9L386.8,232.2L386.5,232.6L385.8,232.2L385.1,231.7L384.2,231.5L381.5,232.4L380.9,234.4L380.9,238.4L379.4,240.6Z" fill="#edf8b1"/>
<path d="M385.7,246.9L385.7,248.2L384.1,249.9L384.9,255.0L385.1,259.7L384.0,260.5L386.0,264.6L388.8,265.2L389.9,267.5L392.4,268.7L395.0,269.9L396.8,268.8L400.9,270.6L405.0,272.5L409.1,274.3L413.2,276.1L417.4,277.9L417.3,276.6L419.6,276.6L419.5,274.0L419.4,271.4L419.2,266.7L419.0,262.0L418.7,257.3L418.4,252.6L417.6,250.3L418.3,246.3L415.7,245.2L412.6,243.4L410.1,243.0L407.0,245.1L407.1,248.5L405.4,249.9L402.7,248.7L399.3,247.4L396.9,246.4L396.1,244.3L391.9,243.0L388.3,242.3L388.3,244.2L386.5,245.5L385.9,246.4Z" fill="#ffffd9"/>
<path d="M398.0,274.0L399.1,275.7L398.7,278.8L398.3,281.9L398.3,284.7L396.0,287.9L393.8,291.0L394.1,293.1L395.2,294.6L395.5,296.2L397.1,297.0L397.5,298.5L397.7,301.2L398.5,302.7L395.1,303.5L397.4,306.2L398.6,309.2L401.1,308.7L403.7,308.1L405.7,307.8L406.8,305.3L409.8,304.9L412.7,301.4L415.4,300.3L414.5,297.5L413.0,295.7L413.8,294.9L414.3,292.3L415.3,288.2L417.7,287.9L417.5,282.9L417.4,277.9L413.2,276.1L409.1,274.3L405.0,272.5L400.9,270.6L396.8,268.8L397.4,271.4Z" fill="#c7e9b4"/>
<path d="M396.6,312.6L396.5,313.4L396.4,315.8L397.8,318.6L399.6,321.2L400.3,323.1L401.4,319.5L405.8,319.7L405.8,317.5L407.9,315.5L410.2,317.3L414.6,318.0L415.7,316.4L419.1,315.5L421.2,315.5L423.7,315.6L426.2,315.6L423.7,311.6L420.9,309.2L418.6,307.2L416.9,306.0L417.2,303.0L415.4,300.3L412.7,301.4L409.8,304.9L406.8,305.3L405.7,307.8L403.7,308.1L401.1,308.7L398.6,309.2L397.9,309.5Z" fill="#c7e9b4"/>
<path d="M350.5,287.9L350.4,287.9L350.5,288.4L346.1,288.4L341.8,288.4L340.9,288.6L338.6,288.6L336.8,288.1L336.1,289.9L335.2,290.3L335.5,291.6L336.9,293.9L337.0,296.5L338.5,297.5L341.6,296.5L343.8,297.5L343.2,298.8L344.0,300.1L344.7,302.2L347.1,302.2L348.8,300.9L350.4,301.7L350.9,299.2L350.9,298.0L352.9,296.2L353.2,294.5L355.2,294.4L356.5,292.3L358.4,291.8L361.4,289.5L363.5,289.8L366.0,288.9L368.5,288.8L371.1,288.6L372.6,286.0L372.7,284.7L372.6,281.8L372.6,278.9L370.5,279.2L370.2,277.2L367.1,275.9L365.6,274.7L365.6,273.8L361.1,270.4L356.6,267.0L352.2,263.6L348.3,263.6L348.6,268.0L349.0,272.5L349.4,276.9L349.8,281.3L350.2,285.8L350.3,287.1Z" fill="#c7e9b4"/>
<path d="M439.7,271.4L435.6,271.4L431.6,271.4L427.5,271.4L423.4,271.4L419.4,271.4L419.5,274.0L419.6,276.6L417.3,276.6L417.4,277.9L417.5,282.9L417.7,287.9L415.3,288.2L414.3,292.3L413.8,294.9L413.0,295.7L414.5,297.5L415.4,300.3L417.2,303.0L416.9,306.0L418.6,306.1L419.3,305.7L420.5,301.9L423.8,303.9L427.2,304.4L429.5,303.5L431.8,302.1L434.1,303.2L435.6,300.4L437.1,297.6L439.0,297.0L438.9,300.8L441.2,304.0L441.6,301.3L443.1,300.4L443.1,297.8L445.7,295.7L446.4,291.5L446.1,289.4L447.1,284.3L450.5,282.0L450.4,281.9L447.8,280.0L447.3,277.7L447.0,274.0L446.2,271.4L443.7,271.4Z" fill="#ffffd9"/>
<path d="M365.3,294.0L365.2,294.9L367.8,295.7L368.5,297.8L369.5,296.6L371.2,298.3L371.4,296.2L372.4,293.6L375.6,292.5L378.8,294.9L380.8,294.0L383.6,295.3L385.9,294.1L388.7,294.4L391.6,294.6L394.1,293.1L393.8,291.0L396.0,287.9L398.3,284.7L398.3,281.9L398.7,278.8L399.1,275.7L398.0,274.0L397.4,271.4L396.8,268.8L395.0,269.9L392.4,268.7L389.9,267.5L386.6,269.8L383.2,272.1L379.8,274.4L376.1,278.1L372.6,278.9L372.6,281.8L372.7,284.7L372.6,286.0L371.1,288.6L368.5,288.8L366.0,288.9L363.5,289.8L363.9,292.3Z" fill="#ffffd9"/>
<path d="M328.5,293.7L330.1,294.2L331.5,294.4L331.5,293.6L330.3,293.5L328.5,292.8L327.8,293.3L324.3,293.3L324.6,294.1L324.6,294.6L327.8,294.1Z" fill="#ffffd9"/>
<path d="M328.2,295.7L331.7,295.7L333.1,296.2L334.9,296.7L337.0,296.5L337.0,295.7L336.4,293.1L336.4,293.0L335.5,291.6L335.2,290.3L333.6,288.4L332.3,286.8L330.2,285.4L327.7,285.6L325.9,285.8L325.5,286.8L325.4,287.1L323.1,290.5L324.3,293.3L327.8,293.3L328.5,292.8L330.3,293.5L331.5,293.6L331.5,294.4L330.1,294.2L328.5,293.7L327.8,294.1L324.6,294.6L324.7,296.5L324.9,296.6L327.1,296.3Z" fill="#edf8b1"/>
<path d="M331.6,298.3L331.8,295.8L331.7,295.7L328.2,295.7L327.1,296.3L324.9,296.6L324.9,296.6L327.3,297.9L328.6,300.1L328.7,300.2L329.3,298.8Z" fill="#edf8b1"/>
<path d="M337.3,302.7L338.4,304.4L338.7,305.2L339.4,306.7L341.2,307.0L341.4,309.5L342.1,310.0L343.6,309.1L343.9,309.0L345.4,306.9L344.2,304.3L345.0,302.2L344.7,302.2L344.0,300.1L343.2,298.8L343.7,297.6L343.7,297.5L342.3,296.8L341.2,296.6L338.5,297.5L337.0,296.5L334.9,296.7L333.1,296.2L331.7,295.7L331.8,295.8L331.6,298.3L329.3,298.8L328.7,300.2L328.7,300.2L329.5,301.4L331.6,304.0L332.5,305.2L334.3,303.0Z" fill="#edf8b1"/>
<path d="M338.7,308.6L339.4,306.7L338.7,305.2L338.4,304.4L337.3,302.7L334.3,303.0L332.5,305.2L332.6,306.6L334.3,309.5L336.6,310.8L337.0,310.0Z" fill="#ffffd9"/>
<path d="M343.9,312.1L343.6,309.1L342.1,310.0L341.4,309.5L341.2,307.0L339.4,306.7L338.7,308.6L337.1,309.9L336.6,310.8L338.2,312.4L342.3,315.5L345.6,317.5L345.9,313.5Z" fill="#ffffd9"/>
<path d="M355.6,311.1L357.3,307.4L356.8,304.0L355.7,303.0L352.2,303.5L350.4,301.7L348.8,300.9L347.1,302.2L345.0,302.2L344.2,304.3L345.4,306.9L343.9,309.0L343.6,309.1L343.9,312.1L345.9,313.5L345.6,317.5L349.2,316.3L351.5,315.7L353.8,315.1L355.9,315.5L356.7,314.2Z" fill="#edf8b1"/>
<path d="M356.5,300.1L359.7,300.0L363.0,299.9L365.1,300.2L366.2,298.9L368.5,297.8L367.8,295.7L365.2,294.9L365.3,294.0L363.9,292.3L363.5,289.8L362.6,289.7L360.9,290.2L360.2,290.4L358.4,291.8L356.5,292.3L355.2,294.4L353.2,294.5L352.9,296.2L350.9,298.0L350.9,299.2L350.4,301.7L352.2,303.5L355.7,303.0L356.8,304.0Z" fill="#ffffd9"/>
<path d="M364.1,307.2L364.1,302.7L363.0,299.9L359.7,300.0L356.5,300.1L356.8,304.0L357.3,307.4L355.6,311.1L356.7,314.2L355.9,315.5L357.8,316.3L359.2,315.9L359.2,315.9L362.5,314.3L365.8,312.9L364.6,311.3Z" fill="#ffffd9"/>
<path d="M366.7,308.1L366.8,305.3L366.1,302.7L365.1,300.2L363.0,299.9L364.1,302.7L364.1,307.2L364.6,311.3L365.8,312.9L366.8,312.6L366.7,310.8Z" fill="#ffffd9"/>
<path d="M370.1,305.1L371.7,301.2L371.2,298.3L369.5,296.6L368.5,297.8L367.5,298.3L365.2,300.1L365.1,300.2L366.1,302.7L366.8,305.3L366.7,308.1L366.7,310.4L366.8,312.6L369.2,312.2L369.3,308.5Z" fill="#ffffd9"/>
<path d="M384.4,312.4L386.4,310.8L389.0,311.8L391.1,306.9L393.3,303.8L394.6,300.1L396.4,298.8L395.5,296.2L394.8,294.1L394.1,293.1L391.6,294.6L388.7,294.4L385.9,294.1L383.6,295.3L380.8,294.0L378.8,294.9L375.6,292.5L372.4,293.6L371.4,296.2L371.2,298.3L371.7,301.2L370.1,305.1L369.3,308.5L369.2,312.2L370.8,312.1L374.5,313.4L375.4,315.5L377.0,317.6L379.1,317.3L382.1,316.8L382.6,316.4L382.7,316.5L382.7,316.3Z" fill="#ffffd9"/>
<path d="M389.1,323.1L385.6,322.7L385.5,324.0L385.1,326.2L389.1,326.2Z" fill="#edf8b1"/>
<path d="M389.7,335.1L391.8,335.1L392.9,334.9L395.0,335.2L396.2,334.8L396.2,333.8L396.4,330.4L395.0,328.8L396.4,326.5L395.7,325.3L393.4,325.4L393.6,323.1L389.1,323.1L389.1,326.2L385.1,326.2L384.8,327.8L383.0,330.5L384.4,333.8L386.0,336.4L388.5,339.1L390.4,338.2Z" fill="#c7e9b4"/>
<path d="M393.6,323.1L396.4,323.1L399.3,323.8L400.1,324.4L400.5,323.1L400.4,322.8L400.3,323.1L399.9,322.0L398.5,319.6L397.8,318.6L397.3,317.7L396.1,315.8L396.4,315.1L396.5,313.4L396.6,312.6L397.9,309.5L398.6,309.2L398.3,308.3L397.0,306.2L395.7,304.2L395.1,303.5L395.3,303.5L395.1,303.2L398.1,302.7L397.8,301.2L397.7,301.2L397.7,300.9L397.4,299.3L396.8,296.8L396.3,296.6L395.9,297.4L396.4,298.8L394.6,300.1L393.3,303.8L391.2,306.7L390.9,307.4L390.9,307.4L389.0,311.8L388.0,311.4L386.7,311.6L385.2,311.8L384.4,312.4L382.7,316.3L382.7,316.5L383.5,317.1L385.0,318.6L385.8,321.1L385.6,322.7L389.1,323.1Z" fill="#ffffd9"/>
<path d="M392.5,340.3L393.1,340.8L393.8,341.4L396.1,341.4L398.0,340.0L399.6,339.0L400.3,334.0L403.8,330.1L404.1,326.2L404.7,322.8L405.8,319.7L401.4,319.5L400.3,323.1L400.4,322.8L400.5,323.1L400.1,324.4L399.3,323.8L396.4,323.1L393.6,323.1L393.5,324.8L393.6,325.4L395.7,325.3L396.4,326.5L395.0,328.8L396.4,330.4L396.2,333.0L396.6,334.0L396.2,334.0L396.2,334.8L395.0,335.2L392.9,334.9L391.8,335.1L389.7,335.1L390.4,338.2L388.5,339.1L390.3,341.3L390.5,341.9L390.6,341.8Z" fill="#edf8b1"/>
<path d="M428.4,317.6L430.9,316.7L434.0,319.7L436.2,318.9L438.3,319.0L441.2,317.8L445.6,316.7L443.7,314.2L442.8,311.3L438.8,308.2L441.3,306.4L441.2,304.0L438.6,301.4L438.9,299.2L439.0,297.0L437.1,297.6L435.6,300.4L434.1,303.2L431.8,302.1L429.5,303.5L427.2,304.4L423.8,303.9L420.5,301.9L419.3,305.7L418.6,306.1L418.3,306.9L418.6,307.2L420.9,309.2L423.7,311.6L426.2,315.6Z" fill="#ffffd9"/>
<path d="M440.0,302.8L441.2,304.0L440.1,302.5ZM447.9,317.2L450.7,319.4L453.9,319.8L457.6,318.5L459.4,318.4L461.9,316.8L464.2,316.3L466.5,315.8L469.9,311.8L473.2,307.9L470.9,307.9L467.5,306.6L464.0,305.3L461.6,301.2L461.4,300.2L458.8,300.1L460.0,296.3L456.2,291.9L452.0,290.7L449.5,289.9L446.4,291.5L445.7,295.7L443.1,297.8L443.1,300.4L441.6,301.3L441.2,304.0L441.3,306.4L438.8,308.2L442.8,311.3L443.7,314.2L445.6,316.7Z" fill="#ffffd9"/>
<path d="M461.8,316.9L459.4,318.4L457.4,321.5L457.5,326.3L457.5,331.0L458.7,333.1L461.0,329.7L464.4,326.2L467.5,323.5L471.6,318.4L474.6,314.8L476.1,311.1L477.5,307.9L478.7,306.6L479.8,304.0L480.8,301.5L480.4,297.9L479.3,297.6L475.2,299.3L473.0,299.6L470.7,299.9L468.4,300.7L466.2,301.5L462.1,298.9L461.4,300.2L461.6,301.2L464.0,305.3L467.5,306.6L470.9,307.9L473.2,307.9L469.9,311.8L466.5,315.8L464.2,316.3L462.1,316.8Z" fill="#ffffd9"/>
<path d="M459.3,318.4L457.6,318.5L453.9,319.8L450.7,319.4L447.9,317.2L445.6,316.7L441.2,317.8L442.4,319.7L443.6,323.8L442.5,325.9L441.3,328.0L441.1,328.5L441.2,331.4L445.5,334.1L449.8,336.8L449.6,337.8L453.2,341.1L454.4,339.4L455.3,337.1L457.2,334.8L458.7,333.1L457.5,331.0L457.5,326.3L457.4,321.5L458.9,319.2Z" fill="#ffffd9"/>
<path d="M435.1,323.2L432.8,325.7L432.0,326.7L431.2,330.1L431.2,332.5L432.0,332.6L433.1,331.5L437.2,331.5L441.2,331.4L441.1,328.5L441.3,328.0L442.5,325.9L443.6,323.8L442.9,321.3L442.7,320.7L442.0,319.1L441.2,317.8L438.3,319.0L436.2,318.9L434.0,319.7L433.8,322.5Z" fill="#ffffd9"/>
<path d="M430.0,334.8L429.8,336.0L431.9,336.0L433.4,335.1L434.0,334.8L433.1,331.5L432.0,332.6L431.2,332.5L430.4,333.2Z" fill="#edf8b1"/>
<path d="M430.7,340.4L431.6,340.3L433.0,338.7L433.9,337.4L434.0,334.9L433.4,335.1L431.9,336.0L429.8,336.0L430.3,337.4Z" fill="#edf8b1"/>
<path d="M434.2,334.8L434.0,335.3L433.9,337.4L433.0,338.7L431.6,340.3L430.7,340.4L431.1,344.4L432.3,347.3L433.6,350.2L434.2,351.2L437.4,352.5L438.6,353.3L441.0,353.6L442.3,356.2L443.0,358.9L445.4,359.3L448.9,359.3L451.2,358.4L455.7,356.2L454.0,354.9L453.7,352.0L453.7,349.7L453.3,346.5L452.2,344.4L452.9,342.1L453.2,341.1L449.6,337.8L449.8,336.8L445.5,334.1L441.2,331.4L437.2,331.5L433.1,331.5Z" fill="#ffffd9"/>
<path d="M439.3,359.1L438.5,361.4L437.7,364.3L438.8,365.3L441.4,366.4L441.4,371.3L443.3,373.4L444.5,370.5L444.9,367.7L442.0,363.7L442.2,360.1L443.0,358.9L442.3,356.2L441.0,353.6L438.6,353.3L439.3,354.9Z" fill="#ffffd9"/>
<path d="M426.6,373.0L424.3,375.6L420.4,375.2L422.3,379.7L425.6,382.3L426.2,385.0L429.2,386.7L433.5,387.2L436.2,384.4L437.1,381.0L437.8,378.4L437.6,375.5L438.0,372.4L434.3,370.5L432.3,369.6L428.8,370.4Z" fill="#edf8b1"/>
<path d="M442.2,361.3L442.1,361.6L442.0,363.7L444.9,367.7L444.5,370.5L443.3,373.4L441.4,371.3L441.4,367.2L441.1,366.2L438.8,365.3L435.3,366.6L431.9,367.9L432.3,369.6L434.3,370.5L438.0,372.4L437.6,375.5L437.8,378.4L437.1,381.0L436.2,384.4L433.5,387.2L433.9,390.1L434.8,392.7L434.5,396.5L434.6,398.7L436.4,398.8L435.9,396.5L438.1,394.5L442.2,392.7L442.8,391.0L443.0,386.4L442.2,384.9L441.5,382.3L441.9,380.6L445.3,377.8L446.9,375.5L449.4,373.9L453.8,371.1L455.5,369.2L456.1,366.6L455.6,362.7L455.7,359.4L455.7,356.2L451.2,358.4L448.9,359.3L445.4,359.3L443.0,358.9L442.5,359.7Z" fill="#ffffd9"/>
<path d="M428.2,353.1L428.6,355.4L428.6,357.5L428.0,360.1L429.4,361.1L431.2,360.5L431.1,363.9L429.3,363.7L428.0,361.4L425.3,359.1L422.5,359.8L418.9,357.7L417.9,357.2L417.9,359.9L417.9,362.7L415.6,362.7L413.3,362.7L413.2,366.9L413.1,371.1L416.2,374.7L420.4,375.2L424.3,375.6L426.6,373.0L428.8,370.4L430.8,370.0L432.2,369.3L431.9,367.9L435.3,366.6L438.8,365.3L437.7,364.3L438.5,361.4L439.3,359.1L439.3,354.9L438.6,353.3L437.4,352.5L434.2,351.2L433.6,350.2L429.4,351.0Z" fill="#ffffd9"/>
<path d="M393.1,340.8L392.5,340.3L390.6,341.8L390.6,342.1L391.1,343.3L391.1,343.8L391.7,343.7ZM394.8,374.2L398.2,374.2L401.6,374.2L405.0,374.2L408.3,375.0L411.6,375.7L413.9,375.2L416.2,374.7L413.1,371.1L413.2,366.9L413.3,362.7L413.5,362.7L413.5,362.4L415.8,362.4L417.9,362.4L417.9,359.9L417.9,357.2L418.0,357.2L418.0,357.0L414.1,357.5L413.1,353.6L413.1,350.7L413.1,347.8L410.5,347.4L407.8,347.1L407.6,349.7L403.4,349.9L402.1,347.1L401.2,344.2L397.0,344.1L392.9,344.1L391.3,344.6L392.4,347.1L393.3,351.8L394.0,354.6L394.6,357.5L393.7,361.7L391.6,364.0L390.7,368.4L389.9,370.5L389.7,373.8L392.6,373.1Z" fill="#ffffd9"/>
<path d="M405.2,404.2L407.4,402.9L407.7,398.1L407.9,393.4L408.0,389.8L408.1,386.2L410.4,386.2L410.5,381.4L410.7,376.5L413.3,376.1L415.9,375.7L418.4,375.7L420.4,375.2L416.2,374.7L413.9,375.2L411.6,375.7L408.3,375.0L405.0,374.2L401.6,374.2L398.2,374.2L394.8,374.2L392.6,373.1L389.7,373.8L390.2,377.0L391.8,380.2L393.3,383.3L394.5,386.0L395.6,388.7L395.5,392.7L396.2,395.5L396.8,398.3L399.5,403.4L401.6,403.7Z" fill="#ffffd9"/>
<path d="M410.1,386.4L408.1,386.4L408.0,389.8L407.9,393.4L408.5,396.1L409.2,398.8L412.1,398.2L414.5,394.8L417.4,395.0L420.3,395.3L423.5,390.6L426.7,387.7L429.2,386.7L426.2,385.0L425.6,382.3L422.3,379.7L420.4,375.2L418.4,375.7L415.9,375.7L413.3,376.1L410.7,376.5L410.5,381.4L410.4,386.2L410.1,386.2Z" fill="#ffffd9"/>
<path d="M425.0,408.7L427.4,406.9L428.1,405.5L426.7,403.4L425.2,403.9L422.8,406.1L423.5,407.8Z" fill="#ffffd9"/>
<path d="M431.8,397.7L432.1,399.7L434.2,400.0L434.6,398.7L434.5,396.5L433.0,396.0Z" fill="#ffffd9"/>
<path d="M434.4,391.8L434.3,391.3L433.9,390.1L433.5,387.2L429.2,386.7L428.4,387.0L426.5,388.3L425.1,389.2L423.5,390.6L420.3,395.3L417.4,395.0L414.5,394.8L412.1,398.2L409.2,398.8L408.5,396.1L407.9,393.4L407.7,398.1L407.4,402.9L405.2,404.2L401.6,403.7L399.5,403.4L401.2,408.3L403.2,412.3L402.2,414.9L403.1,417.2L403.2,418.4L406.5,419.6L408.9,418.8L411.3,418.0L414.0,417.7L417.0,418.0L418.9,417.5L421.5,416.2L424.1,414.9L426.6,412.7L429.1,410.4L431.7,406.7L434.3,403.9L436.4,398.8L434.6,398.7L434.2,400.0L432.1,399.7L431.8,397.7L433.0,396.0L434.5,396.5L434.7,394.0ZM423.5,407.8L422.8,406.1L425.2,403.9L426.7,403.4L428.1,405.5L427.4,406.9L425.0,408.7Z" fill="#ffffd9"/>
<path d="M429.7,363.8L431.1,363.9L431.1,363.0L430.4,360.8L429.4,361.1L428.0,360.1L428.6,357.5L428.6,355.4L428.4,354.6L427.9,353.1L428.2,352.9L429.4,351.0L433.6,350.2L432.3,347.3L431.1,344.4L430.7,340.4L430.3,337.4L429.8,336.0L430.0,334.8L430.4,333.2L431.2,332.5L431.2,330.1L432.0,326.7L432.8,325.7L435.1,323.2L433.8,322.5L434.0,319.7L430.9,316.7L428.4,317.6L426.2,315.6L423.7,315.6L421.2,315.5L419.1,315.5L415.7,316.4L414.6,318.0L410.2,317.3L407.9,315.5L405.8,317.5L405.8,319.7L404.7,322.8L404.1,326.2L403.8,330.1L400.3,334.0L399.6,339.0L398.0,340.0L396.1,341.4L393.8,341.4L393.1,340.8L391.7,343.7L391.1,343.8L391.3,344.6L392.9,344.1L397.0,344.1L401.2,344.2L402.1,347.1L403.4,349.9L407.6,349.7L407.8,347.1L410.5,347.4L413.1,347.8L413.1,350.7L413.1,353.6L414.1,357.5L418.0,357.0L418.0,357.2L417.9,357.2L418.9,357.7L422.5,359.8L425.3,359.1L428.0,361.4L429.2,363.7ZM405.8,319.4L405.8,319.4L405.8,319.7Z" fill="#ffffd9"/>
<path d="M462.0,359.7L462.6,359.8L462.6,358.8L462.0,358.8ZM460.5,386.2L461.2,389.7L461.6,394.0L464.1,395.6L468.3,394.1L469.5,391.4L471.2,386.7L472.3,383.8L473.4,381.0L475.1,376.1L475.8,372.9L476.5,369.2L478.1,368.7L477.7,367.7L477.3,364.0L475.7,360.0L474.9,361.4L472.7,364.0L472.4,366.1L470.7,367.9L468.5,369.7L466.2,370.5L464.2,371.1L463.5,374.1L462.8,377.0L463.2,381.0L462.3,382.3Z" fill="#ffffd9"/>
<path d="M461.9,358.5L462.0,359.7L462.0,358.8L462.6,358.8L462.6,358.5Z" fill="#ffffd9"/>
<path d="M492.6,382.1L493.5,382.3L493.8,381.2L492.8,381.0Z" fill="#ffffd9"/>
<path d="M305.4,284.2L305.5,284.6L306.1,284.6L306.3,283.9ZM308.7,288.9L308.8,289.8L309.4,289.9L309.5,289.2Z" fill="#edf8b1"/>
<path d="M378.0,327.8L378.0,328.5L378.3,328.8L378.6,328.0Z" fill="#ffffd9"/>
<path d="M415.5,172.6L418.6,174.5L416.4,174.6L414.9,175.6L413.9,176.9L414.4,178.4L414.5,180.2L415.5,180.8L415.4,181.9L416.6,183.6L419.2,184.6L420.8,184.3L422.1,185.0L422.3,186.9L424.7,189.4L426.7,190.3L426.2,190.9L424.3,190.9L425.6,193.6L427.5,193.3L429.4,193.0L430.9,194.4L433.3,196.4L434.0,197.9L437.8,198.0L439.0,199.2L441.2,199.5L443.4,199.9L443.1,202.4L443.9,203.3L443.7,204.3L441.9,204.3L440.8,205.0L441.0,206.2L443.1,206.0L441.3,207.3L440.7,207.5L440.7,207.5L440.6,207.6L441.3,208.8L440.5,209.8L439.9,210.7L438.5,211.2L438.5,211.3L438.5,211.2L440.1,211.9L441.2,212.4L444.1,213.9L445.6,215.2L448.5,216.7L448.5,216.7L446.6,215.7L447.8,215.3L449.8,216.1L451.7,216.3L454.7,217.8L456.1,217.4L457.6,217.7L458.7,218.1L460.6,219.7L461.5,220.0L462.5,220.9L464.1,221.4L465.2,219.7L464.4,219.2L462.2,216.8L461.8,214.7L459.9,212.7L460.0,211.6L460.7,210.1L463.3,208.0L463.4,208.0L462.1,207.3L460.7,204.7L458.5,204.1L457.0,202.9L457.6,201.2L457.0,200.5L457.6,198.1L459.4,197.4L461.2,196.8L463.3,194.6L466.2,194.5L468.6,195.1L471.4,196.4L473.9,197.4L476.1,196.1L479.3,196.4L481.5,197.5L485.1,196.9L485.0,195.6L481.3,194.1L482.9,193.1L482.0,192.1L484.4,191.4L482.2,190.1L481.4,189.0L483.2,188.7L485.0,188.4L487.1,188.2L489.1,188.0L491.7,187.2L494.2,186.4L495.4,185.7L498.9,185.7L500.7,188.5L503.2,188.7L505.6,188.9L506.0,190.3L507.9,190.1L509.5,189.3L511.1,188.4L511.7,187.9L515.0,190.6L518.6,193.8L522.2,196.9L525.4,196.6L528.6,196.4L531.3,198.3L534.1,199.1L537.0,199.9L538.6,201.0L539.6,201.0L542.5,199.2L544.7,198.0L546.9,196.9L550.7,197.4L554.3,198.5L557.9,199.5L558.8,197.5L557.7,193.6L561.6,194.6L565.4,195.6L566.7,197.4L570.7,198.5L573.3,198.3L575.8,198.0L580.9,200.5L583.3,200.7L585.8,200.9L587.7,200.4L589.6,199.9L591.1,198.3L593.9,198.8L596.6,199.3L599.4,200.2L600.8,198.0L600.3,195.1L599.8,192.5L598.3,192.0L599.0,190.6L601.3,190.3L603.6,190.0L606.0,190.6L608.5,191.3L614.4,195.6L618.3,199.4L621.6,200.5L624.9,201.7L628.8,204.7L632.0,204.7L633.7,203.9L635.4,203.1L636.2,205.5L637.0,208.4L637.6,211.4L635.1,211.0L633.6,211.9L636.7,215.7L636.7,218.2L636.9,218.3L637.1,218.6L638.4,216.5L640.9,217.3L642.0,217.0L643.2,215.6L644.4,214.2L645.4,210.9L646.4,207.8L646.0,205.7L645.5,201.4L643.9,198.9L641.5,195.1L641.0,193.1L638.6,190.6L633.7,188.4L631.9,188.9L630.1,189.4L626.9,188.3L623.7,187.2L626.5,186.4L625.6,182.9L626.2,181.2L626.8,179.6L627.5,177.7L628.1,175.8L630.1,175.8L632.2,175.7L635.0,175.7L637.8,175.7L639.8,175.6L641.8,175.5L644.3,176.0L646.9,176.4L648.6,176.3L650.3,176.2L648.3,175.2L647.5,172.9L646.5,170.5L648.7,170.4L650.8,170.3L656.2,172.9L653.0,170.0L655.3,169.2L657.5,168.4L658.6,170.7L659.3,173.6L659.3,175.1L659.2,176.7L659.2,178.4L657.8,179.6L659.8,184.0L662.3,186.4L664.8,188.9L667.8,191.4L670.8,193.9L674.3,196.6L674.9,193.9L673.3,191.4L675.1,190.6L675.3,188.8L675.5,187.0L674.6,186.4L674.0,183.5L672.4,183.5L671.6,181.5L667.2,179.6L665.7,176.7L664.1,174.5L666.9,174.5L669.3,174.3L670.6,173.1L673.7,173.7L676.7,174.3L677.0,173.1L677.4,171.9L678.2,170.8L679.1,169.8L680.0,169.1L680.8,168.4L683.2,168.6L685.6,168.8L681.0,166.5L675.4,164.4L674.5,163.1L676.7,163.5L677.9,162.5L677.2,162.0L673.5,159.5L670.8,157.7L666.7,155.0L664.5,153.6L662.2,153.2L659.8,152.7L657.4,152.3L655.1,151.8L652.6,151.8L650.1,151.8L647.6,151.5L645.1,151.2L647.7,153.6L641.6,151.4L640.8,152.3L638.1,152.1L635.5,152.0L633.1,152.1L630.8,152.3L627.4,151.1L624.0,149.9L621.1,149.5L618.2,149.2L615.9,149.3L613.6,149.4L610.8,148.9L608.0,148.4L604.2,146.9L601.1,146.7L598.0,146.5L595.4,146.2L592.9,145.9L590.3,145.6L588.0,145.3L587.7,146.0L587.4,147.0L587.1,147.9L585.6,148.0L584.1,148.2L581.9,148.4L579.2,148.2L578.1,148.9L577.0,149.7L572.3,147.8L571.9,147.5L570.9,146.0L567.4,144.6L565.4,144.3L563.4,143.9L561.1,143.7L558.9,143.5L559.1,145.0L556.4,145.0L553.6,145.0L550.1,144.6L546.7,144.1L543.3,143.7L542.8,143.9L540.2,143.1L538.3,143.1L536.3,143.1L534.9,143.7L533.5,144.4L533.4,144.4L534.2,143.7L535.3,142.9L536.4,141.9L537.7,141.4L539.0,140.8L536.7,139.0L533.7,138.2L530.7,137.4L528.1,137.4L525.5,137.4L522.4,136.3L520.2,135.8L518.1,135.4L516.7,135.7L515.4,136.1L515.0,136.9L514.6,137.8L512.7,138.1L510.7,138.4L508.6,138.5L506.4,138.6L504.7,139.0L503.0,139.3L501.3,139.6L499.7,140.2L497.9,140.8L496.6,141.9L495.2,142.9L492.8,143.4L490.5,143.9L493.2,146.2L495.7,147.4L498.3,148.6L501.6,150.7L500.7,151.4L499.6,150.3L496.7,149.2L493.9,148.2L492.2,147.1L489.3,146.5L487.4,146.0L485.5,146.7L483.2,146.2L482.5,148.2L485.1,150.1L486.6,153.4L488.5,154.7L488.7,156.9L487.4,159.8L484.3,158.9L485.6,158.3L486.9,157.6L484.9,153.8L483.9,151.4L480.9,148.2L479.6,145.6L476.9,144.8L474.2,144.4L473.5,145.6L473.7,147.1L472.3,149.2L473.6,151.4L475.4,152.5L478.8,155.3L475.9,154.7L473.7,153.9L471.6,153.1L468.4,152.6L465.2,152.0L463.4,151.8L464.3,153.6L463.8,154.2L462.5,154.9L460.7,154.7L458.9,154.5L457.0,154.8L455.0,155.1L452.8,155.8L453.3,155.1L450.6,154.7L449.1,155.1L447.6,155.6L445.4,156.5L443.6,158.3L442.7,158.0L440.9,155.8L439.7,154.9L437.8,154.6L435.8,154.3L437.5,155.8L438.8,156.9L439.1,159.2L439.2,160.3L436.3,159.4L434.8,160.1L433.2,161.4L434.2,163.5L433.1,163.3L430.5,163.0L427.8,162.6L430.3,165.1L427.6,165.1L424.2,163.7L423.7,162.6L421.9,160.3L419.8,159.2L418.6,157.8L420.5,158.4L422.4,158.9L425.1,159.5L427.4,159.8L429.6,160.2L432.1,159.8L434.1,158.5L432.8,156.9L429.9,155.7L427.5,155.0L425.2,154.2L423.3,153.7L421.5,153.1L418.9,152.9L416.9,151.7L414.2,151.8L413.0,152.1L411.5,153.5L411.2,155.3L414.0,156.5L412.9,158.3L415.3,161.0L415.0,162.8L416.8,164.4L416.2,165.6L419.4,167.4L419.0,168.4L417.2,169.8L415.7,171.4L413.9,173.0ZM533.2,144.6L532.0,145.0L533.4,144.4ZM414.6,184.7L415.7,184.5L416.6,183.6L414.6,184.6ZM657.3,149.2L655.6,148.2L655.1,149.2L656.7,149.5L657.8,149.4L657.5,149.3ZM402.4,186.4L401.4,186.6L401.4,187.3L401.0,187.8L404.0,187.9L407.1,188.0L406.7,186.6L405.3,186.3L403.9,185.8L403.3,185.8ZM428.3,130.3L429.8,130.4L431.2,130.4L432.6,130.3L434.2,130.1L435.8,129.9L433.9,129.8L431.9,129.7L430.0,129.7L428.4,129.9L426.8,130.2ZM497.0,129.2L496.7,130.0L496.4,130.9L498.8,131.0L501.1,131.2L501.6,130.0L499.3,129.6ZM509.3,133.0L506.1,131.2L504.0,131.2L501.8,131.2L501.8,132.8L504.4,133.2L507.1,133.6L508.2,133.3ZM516.3,133.4L514.0,133.0L511.7,132.7L510.5,133.4L509.3,134.1L512.7,135.1L515.2,135.0L517.6,134.9ZM575.5,138.4L574.7,139.1L573.9,139.8L576.3,140.8L578.5,141.1L580.8,141.3L582.9,141.2L585.1,141.1L586.1,140.4L587.0,139.8L584.6,139.3L582.2,138.8L580.0,138.7L577.7,138.6ZM463.6,137.1L461.1,137.2L459.2,137.7L457.2,138.2L455.3,138.6L453.6,139.4L451.8,140.2L450.5,141.3L449.2,142.3L448.7,144.1L450.9,144.3L453.2,144.4L454.5,143.3L455.6,142.6L456.7,141.9L458.1,141.0L459.4,140.0L461.8,139.5L464.2,139.0L466.6,138.4L466.2,137.0ZM588.9,140.0L592.8,141.5L595.0,141.3L597.2,141.1L593.8,140.2L591.4,140.1ZM587.6,144.8L589.2,144.6L590.9,144.4L586.7,143.1L585.3,143.5L584.0,143.9ZM449.5,148.8L452.5,149.9L454.6,150.0L456.7,150.1L456.9,149.0L454.7,147.8L452.4,146.7L452.9,144.6L450.4,144.5L448.0,144.4L447.1,145.6L446.3,147.3ZM650.7,201.2L654.1,201.4L649.9,198.9L646.4,195.1L643.0,191.4L639.0,188.0L637.8,188.2L640.7,191.9L643.3,195.1L645.8,197.6L648.3,200.2L651.0,204.0L652.8,207.0L654.4,209.1L654.6,207.3L656.9,208.6L656.2,207.3L652.6,204.7ZM410.9,152.1L409.2,151.3L408.0,151.6L409.5,151.8ZM424.0,195.3L424.4,195.4L425.6,193.6ZM636.7,218.2L636.7,216.8L635.7,217.6Z" fill="#c7e9b4"/></g></g>
<g id="legend" font-family="Liberation Sans, sans-serif" font-size="12.5" letter-spacing="0.35" fill="#5b5b5b" text-anchor="middle">
<rect x="99" y="537.5" width="48" height="10.5" fill="url(#hatch)" stroke="#c9c9c9" stroke-width="0.6"/>
<line x1="123" y1="534" x2="123" y2="537.5" stroke="#999" stroke-width="0.6"/>
<text x="123" y="530">No data</text>
<g stroke="#c9c9c9" stroke-width="0.6">
<rect x="166" y="537.5" width="58.5" height="10.5" fill="#ffffd9"/>
<rect x="224.5" y="537.5" width="58.5" height="10.5" fill="#edf8b1"/>
<rect x="283" y="537.5" width="58.5" height="10.5" fill="#c7e9b4"/>
<rect x="341.5" y="537.5" width="58.5" height="10.5" fill="#7fcdbb"/>
<rect x="400" y="537.5" width="58.5" height="10.5" fill="#41b6c4"/>
<rect x="458.5" y="537.5" width="58.5" height="10.5" fill="#1d91c0"/>
<rect x="517" y="537.5" width="58.5" height="10.5" fill="#225ea8"/>
<rect x="575.5" y="537.5" width="58.5" height="10.5" fill="#253494"/>
<rect x="634" y="537.5" width="58.5" height="10.5" fill="#172976"/>
<rect x="692.5" y="537.5" width="58.5" height="10.5" fill="#081d58"/>
</g>
<g stroke="#8a8a8a" stroke-width="0.6">
<line x1="166" y1="534" x2="166" y2="548"/><line x1="224.5" y1="534" x2="224.5" y2="548"/><line x1="283" y1="534" x2="283" y2="548"/><line x1="341.5" y1="534" x2="341.5" y2="548"/><line x1="400" y1="534" x2="400" y2="548"/><line x1="458.5" y1="534" x2="458.5" y2="548"/><line x1="517" y1="534" x2="517" y2="548"/><line x1="575.5" y1="534" x2="575.5" y2="548"/><line x1="634" y1="534" x2="634" y2="548"/><line x1="692.5" y1="534" x2="692.5" y2="548"/><line x1="751" y1="534" x2="751" y2="548"/>
</g>
<text x="166" y="530">0</text><text x="224.5" y="530">0.1</text><text x="283" y="530">0.2</text><text x="341.5" y="530">0.3</text><text x="400" y="530">0.4</text><text x="458.5" y="530">0.5</text><text x="517" y="530">0.6</text><text x="575.5" y="530">0.7</text><text x="634" y="530">0.8</text><text x="692.5" y="530">0.9</text><text x="751" y="530">1</text>
</g>
</svg>
<h1 id="title">Direct Democracy Index, 2024</h1>
<p id="subtitle">Data by V-Dem. Expert estimates of the extent to which citizens can easily vote on specific issues themselves in<br>popular initiatives, referendums, and plebiscites. The index ranges from 0 to 1 (easiest).</p>
<div id="logo"><span>Our World<br>in Data</span></div>
<div id="footer-l"><b>Data source:</b> V-Dem (2025)</div>
<div id="footer-r">OurWorldinData.org/democracy | CC BY</div>
</body>
</html>
